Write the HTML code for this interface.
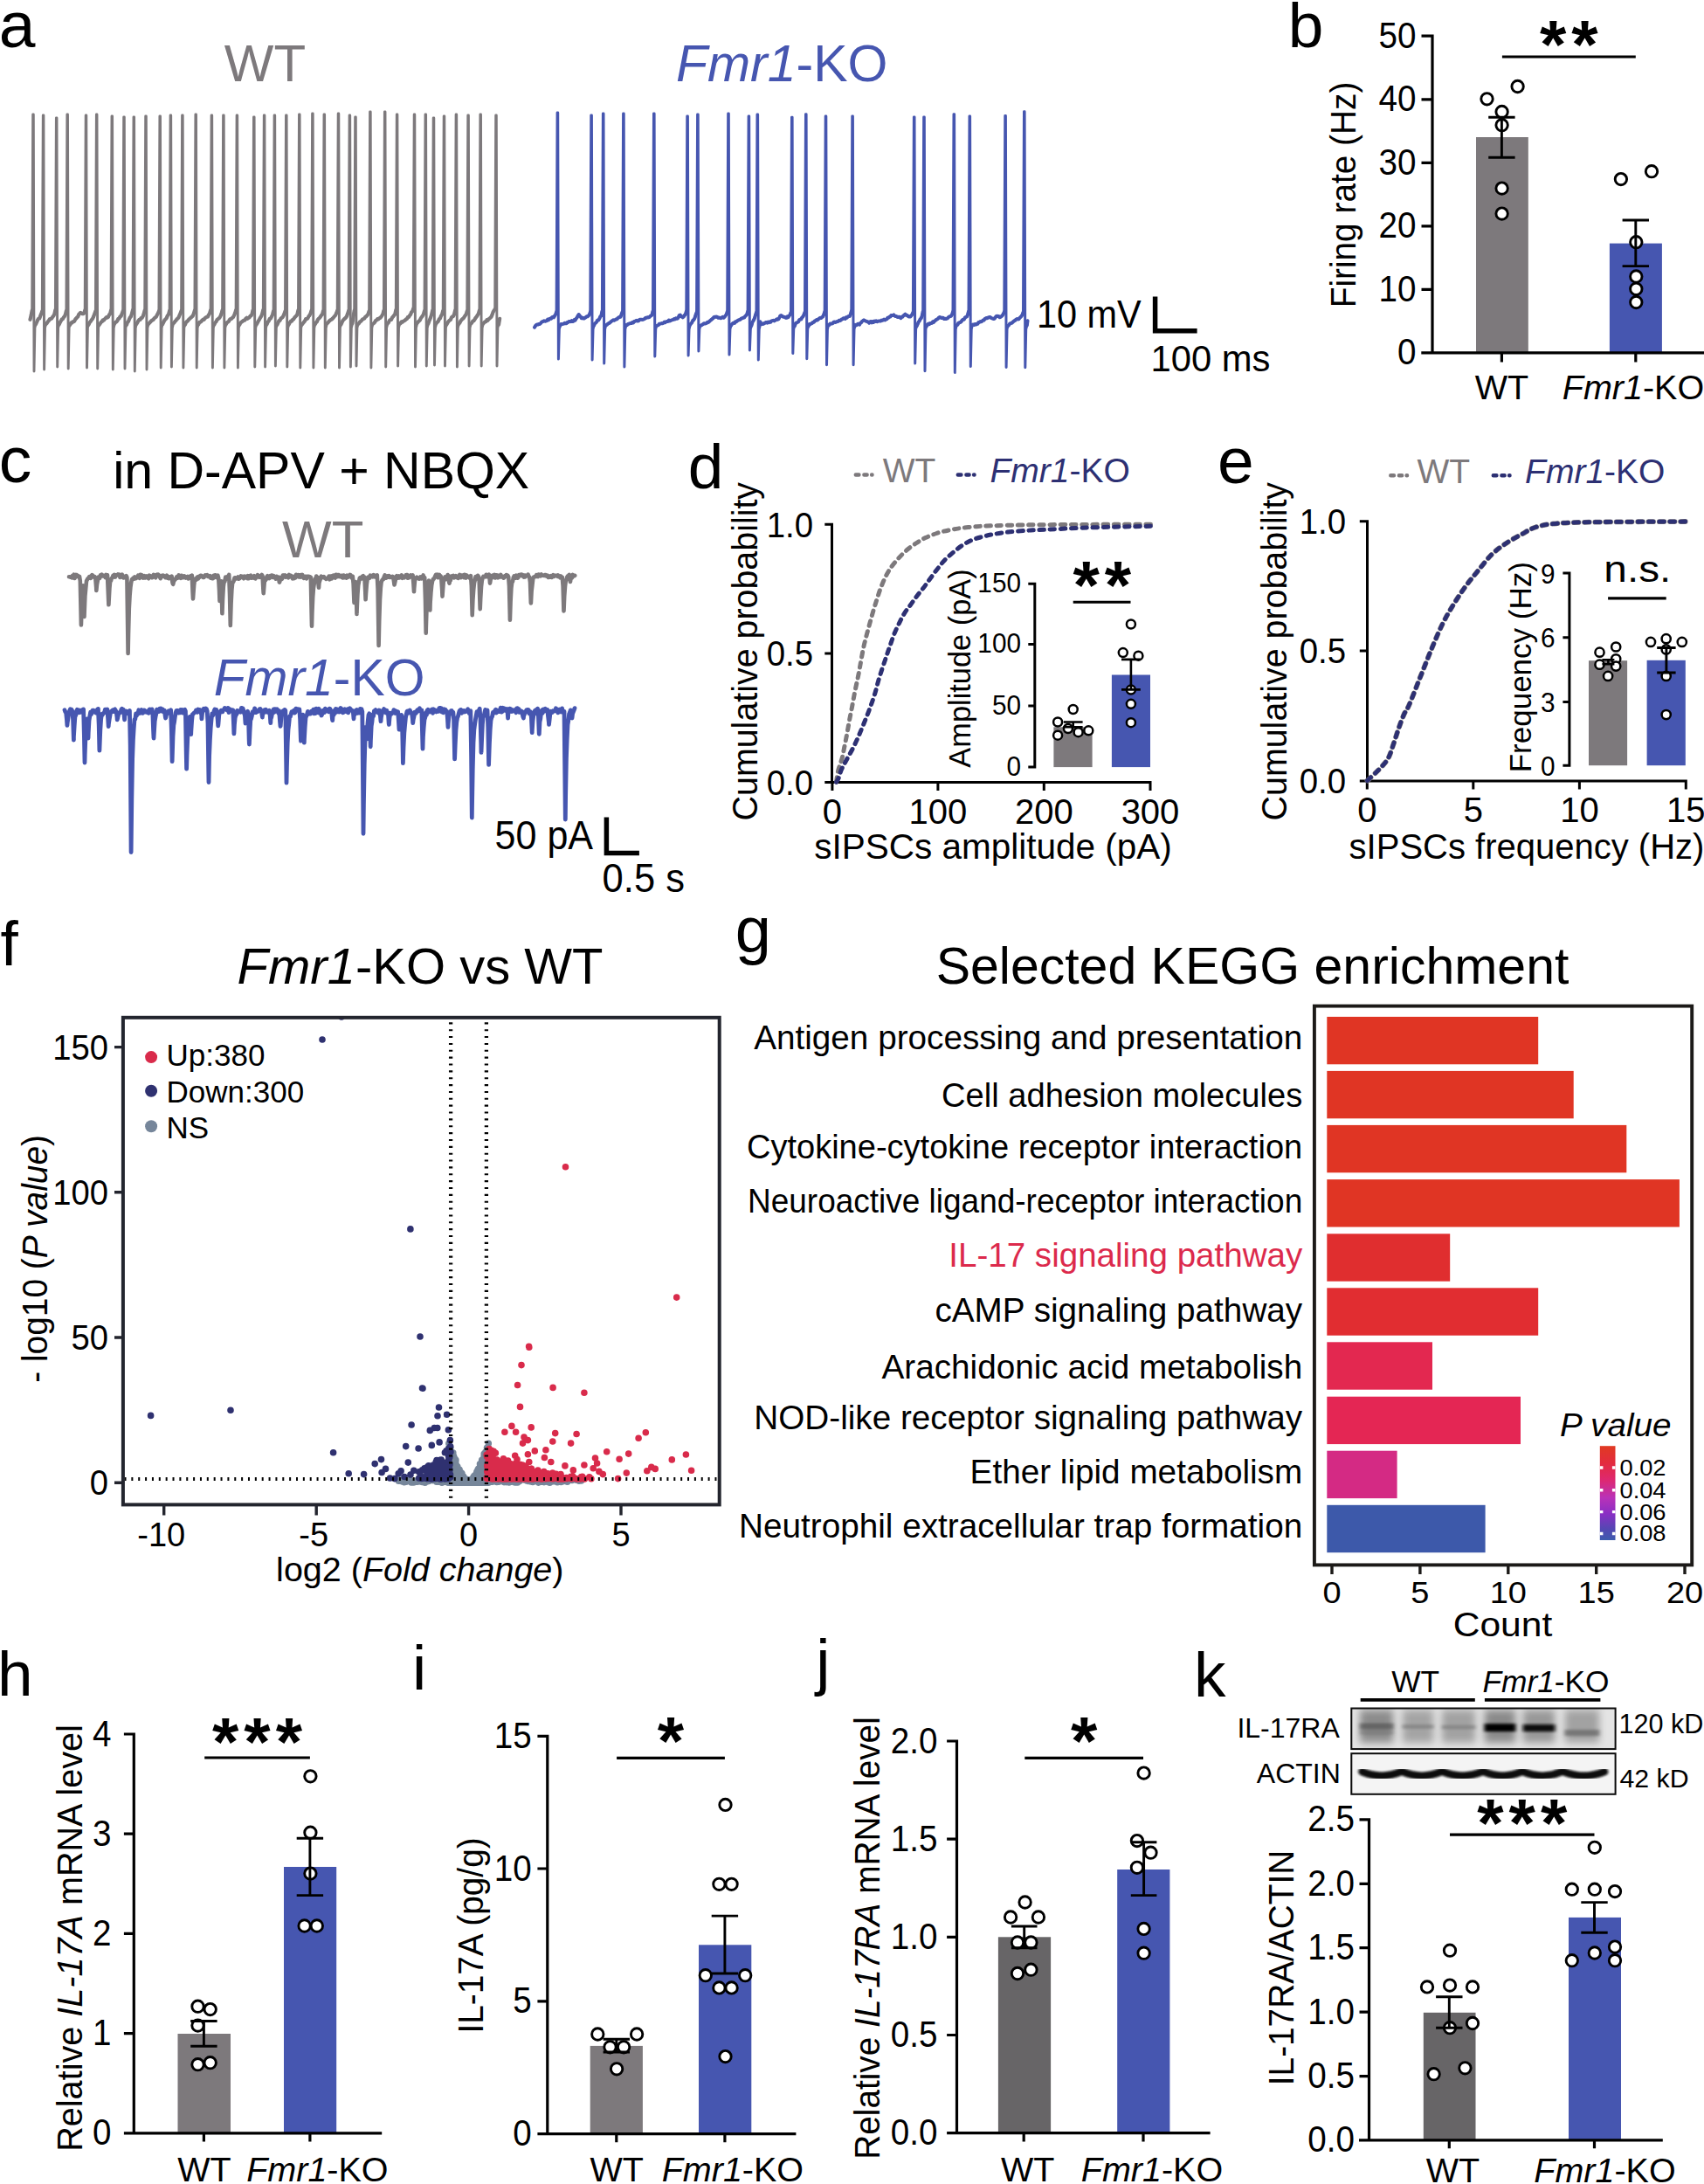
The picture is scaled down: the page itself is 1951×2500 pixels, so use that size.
<!DOCTYPE html>
<html lang="en">
<head>
<meta charset="utf-8">
<title>Figure</title>
<style>
html,body{margin:0;padding:0;background:#fff;}
svg{display:block;}
text{font-family:'Liberation Sans', Arial, Helvetica, sans-serif;white-space:pre;}
</style>
</head>
<body>
<svg width="1951" height="2500" viewBox="0 0 1951 2500">
<text x="-1.3" y="54.2" font-size="75">a</text>
<text x="303.5" y="92.6" font-size="60" text-anchor="middle" fill="#7d797c">WT</text>
<text x="773.9" y="92.6" font-size="59" fill="#4656b0"><tspan font-style="italic">Fmr1</tspan>-KO</text>
<path d="M34.5 365.8L35.6 361.3L36.7 355.3L37.7 131L38.3 131L39 425L39.9 375.5L41 371L41 371.2L42 369L43.1 366.4L44.1 364.7L45.2 364.5L46.2 361.7L47.3 359.2L48.3 356.3L49.3 132L49.9 132L50.6 423L51.5 375.5L52.6 371L52.6 371L53.7 369.9L54.8 368.1L55.8 367.2L56.9 365.4L58 365.1L59.1 364.5L60.2 362.8L61.2 361.8L62.3 359.6L63.4 354.8L64.4 135L65 135L65.7 420L66.6 375.5L67.7 371L67.7 371.4L68.7 369.1L69.8 367.2L70.8 365.4L71.8 365.4L72.8 363.4L73.9 362.1L74.9 360L75.9 355.8L76.9 131L77.5 131L78.2 422L79.1 375.5L80.2 371L80.2 371.7L81.2 369.7L82.2 369.6L83.2 368.3L84.2 368.4L85.2 367.6L86.2 365.6L87.2 364.6L88.2 363.3L89.2 362.6L90.2 359.9L91.2 358.8L92.2 357.9L93.2 358.7L94.2 359.2L95.2 359.2L96.2 358.5L97.2 355.5L98.2 132L98.8 132L99.5 421L100.4 375.5L101.5 371L101.5 371.6L102.6 369.1L103.8 367.8L104.9 366.1L106 364.8L107.1 362.5L108.3 359.2L109.4 356.1L110.4 131L111 131L111.7 422L112.6 375.5L113.7 371L113.7 371.7L114.7 370.3L115.7 368.8L116.8 368.1L117.8 366.4L118.8 366.6L119.8 365.4L120.9 364.2L121.9 363.1L122.9 363.6L123.9 362.9L125 360.2L126 359.5L127 355.4L128 133L128.6 133L129.3 423L130.2 375.5L131.3 371L131.3 370.4L132.3 368.9L133.4 368.3L134.4 367.2L135.5 364.7L136.5 364.5L137.6 362.3L138.6 361.9L139.7 359.1L140.7 356.1L141.7 134L142.3 134L143 422L143.9 375.5L145 371L145 371.8L146 368.8L147 367.9L148 365.2L149 363.2L150 362.2L151 358.8L152 355L153 134L153.6 134L154.3 425L155.2 375.5L156.3 371L156.3 370.9L157.3 369.4L158.4 367.3L159.4 365.9L160.5 366L161.5 364L162.6 363.8L163.6 362.2L164.7 359.2L165.7 355.4L166.7 133L167.3 133L168 423L168.9 375.5L170 371L170 371L171.1 369.7L172.2 368.5L173.2 367.4L174.3 366.5L175.4 366.1L176.5 364.5L177.6 363.4L178.7 362.9L179.7 360.8L180.8 358.9L181.9 356.3L182.9 133L183.5 133L184.2 421L185.1 375.5L186.2 371L186.2 371L187.3 368.8L188.5 366.3L189.6 365.4L190.7 364.1L191.8 361.4L193 360L194.1 355.7L195.1 132L195.7 132L196.4 420L197.3 375.5L198.4 371L198.4 370.3L199.4 369.4L200.4 367.8L201.5 366.9L202.5 365.2L203.5 364.6L204.5 363.4L205.6 360.7L206.6 358.6L207.6 355.8L208.6 132L209.2 132L209.9 421L210.8 375.5L211.9 371L211.9 371.7L213 368.9L214.1 368L215.2 367.1L216.3 365.6L217.4 364.7L218.5 363.6L219.6 362.6L220.7 361.6L221.8 359L222.9 355.3L223.9 131L224.5 131L225.2 421L226.1 375.5L227.2 371L227.2 371.4L228.3 368.9L229.3 368.8L230.4 368.1L231.5 366.6L232.5 365.7L233.6 365.8L234.7 364.2L235.8 363.3L236.8 362.9L237.9 362.5L239 360.3L240 358.8L241.1 355.2L242.1 132L242.7 132L243.4 421L244.3 375.5L245.4 371L245.4 371.5L246.4 369.1L247.4 368.4L248.5 366.1L249.5 365.2L250.5 364.5L251.5 363.6L252.6 361.4L253.6 358.9L254.6 354.9L255.6 132L256.2 132L256.9 421L257.8 375.5L258.9 371L258.9 371L259.9 369L260.9 368.8L262 367.8L263 365.8L264 365L265 365L266 363.7L267 363L268.1 360.9L269.1 358.5L270.1 355.2L271.1 132L271.7 132L272.4 421L273.3 375.5L274.4 371L274.4 371.5L275.4 369.4L276.4 368.7L277.4 368L278.4 367.2L279.4 366.5L280.4 366.6L281.4 364.7L282.5 363.8L283.5 364.7L284.5 363.9L285.5 363.4L286.5 361.7L287.5 361.4L288.5 359.6L289.5 355.1L290.5 134L291.1 134L291.8 420L292.7 375.5L293.8 371L293.8 371.4L294.9 369.3L295.9 367.3L297 365.6L298.1 363.6L299.2 361.9L300.2 359.2L301.3 354.8L302.3 132L302.9 132L303.6 420L304.5 375.5L305.6 371L305.6 371.1L306.7 368.4L307.7 367.6L308.8 364.8L309.9 364.6L311 362.4L312 360.3L313.1 356.1L314.1 132L314.7 132L315.4 419L316.3 375.5L317.4 371L317.4 371.6L318.4 369.3L319.4 367.1L320.4 367L321.4 364.9L322.5 363.9L323.5 363.3L324.5 361.5L325.5 359.2L326.5 356.2L327.5 132L328.1 132L328.8 420L329.7 375.5L330.8 371L330.8 371.2L331.9 369.1L332.9 367.7L334 367.6L335.1 365.9L336.1 365.4L337.2 363.6L338.3 362.3L339.4 361.4L340.4 359.8L341.5 355L342.5 131L343.1 131L343.8 421L344.7 375.5L345.8 371L345.8 371.5L346.9 370L348 368.6L349 367.5L350.1 365.1L351.2 365.1L352.3 364.5L353.4 362.1L354.4 361L355.5 358.9L356.6 355.5L357.6 130L358.2 130L358.9 421L359.8 375.5L360.9 371L360.9 370.9L361.9 369.1L362.9 368.3L363.9 365.8L364.9 364.7L366 363.7L367 362.4L368 360.8L369 360.1L370 356.1L371 131L371.6 131L372.3 421L373.2 375.5L374.3 371L374.3 370.3L375.4 369.5L376.5 368L377.5 367L378.6 366.1L379.7 365.6L380.8 364.6L381.9 363.3L383 362L384 361L385.1 358.6L386.2 355.6L387.2 130L387.8 130L388.5 421L389.4 375.5L390.5 371L390.5 371.3L391.6 368.8L392.6 366.8L393.7 365.6L394.8 364.6L395.9 363.6L396.9 362.3L398 359.3L399.1 356L400.1 132L400.7 132L401.4 420L402.3 375.5L403.4 371L403.4 370.5L404.5 362.9L405.7 355.3L406.7 134L407.3 134L408 419L408.9 375.5L410 371L410 371L411.1 369.9L412.1 368.4L413.1 367.8L414.2 366.6L415.2 365.4L416.3 365L417.3 364.4L418.4 362.6L419.4 362.2L420.5 360.9L421.5 359.7L422.6 356.2L423.6 128L424.2 128L424.9 421L425.8 375.5L426.9 371L426.9 370.8L427.9 370.2L429 369L430 367.2L431.1 366.6L432.1 365.2L433.1 365.4L434.2 364.4L435.2 363.9L436.3 362.8L437.3 361.3L438.4 359.5L439.4 355.6L440.4 128L441 128L441.7 420L442.6 375.5L443.7 371L443.7 370.4L444.8 369.3L445.8 367L446.9 366L448 365.9L449 363.6L450.1 362.4L451.2 360.9L452.2 360L453.3 355L454.3 131L454.9 131L455.6 419L456.5 375.5L457.6 371L457.6 370.2L458.6 370.3L459.7 368.3L460.7 368.7L461.8 367.6L462.8 367.2L463.8 366.7L464.9 365.4L465.9 365L467 362.9L468 363L469 361.2L470.1 360L471.1 357.3L472.2 356.4L473.2 353.5L474.2 131L474.8 131L475.5 420L476.4 375.5L477.5 371L477.5 370L478.6 368.6L479.6 367.6L480.7 366.7L481.8 364.4L482.8 362.9L483.9 361.4L484.9 359.7L486 355.9L487 131L487.6 131L488.3 419L489.2 375.5L490.3 371L490.3 370.7L491.5 367.1L492.8 364.2L494 360.6L495.2 355.4L496.2 135L496.8 135L497.5 418L498.4 375.5L499.5 371L499.5 370.3L500.6 368.8L501.7 367.9L502.8 365.4L503.9 364.4L505 361.6L506.1 360L507.2 355.9L508.2 133L508.8 133L509.5 419L510.4 375.5L511.5 371L511.5 371.3L512.6 369.2L513.6 367.8L514.7 366.8L515.8 366.1L516.8 363.7L517.9 362.4L519 362L520 360.1L521.1 355.5L522.1 131L522.7 131L523.4 420L524.3 375.5L525.4 371L525.4 370.9L526.4 369.5L527.5 367.3L528.5 366.2L529.6 365L530.6 364.4L531.7 362.7L532.7 361.1L533.8 359.7L534.8 356.2L535.8 132L536.4 132L537.1 419L538 375.5L539.1 371L539.1 370.7L540.2 369.5L541.3 367.7L542.4 367.2L543.5 365.6L544.5 363.9L545.6 362.6L546.7 360.8L547.8 359.4L548.9 355.3L549.9 131L550.5 131L551.2 419L552.1 375.5L553.2 371L553.2 370.5L554.2 369.4L555.3 368.4L556.3 368.2L557.4 366.3L558.4 366.9L559.4 365.3L560.5 364.7L561.5 363.6L562.5 362.7L563.6 360.2L564.6 357.2L565.7 355.4L566.7 353.9L567.7 132L568.3 132L569 419L569.9 375.5L571 371L571 371.6L572.1 364.8" fill="none" stroke="#7d797c" stroke-width="2.9" stroke-linejoin="round" stroke-linecap="round"/>
<path d="M34.5 365.8L35.6 361.3L36.7 355.3M41 371.2L42 369L43.1 366.4L44.1 364.7L45.2 364.5L46.2 361.7L47.3 359.2L48.3 356.3M52.6 371L53.7 369.9L54.8 368.1L55.8 367.2L56.9 365.4L58 365.1L59.1 364.5L60.2 362.8L61.2 361.8L62.3 359.6L63.4 354.8M67.7 371.4L68.7 369.1L69.8 367.2L70.8 365.4L71.8 365.4L72.8 363.4L73.9 362.1L74.9 360L75.9 355.8M80.2 371.7L81.2 369.7L82.2 369.6L83.2 368.3L84.2 368.4L85.2 367.6L86.2 365.6L87.2 364.6L88.2 363.3L89.2 362.6L90.2 359.9L91.2 358.8L92.2 357.9L93.2 358.7L94.2 359.2L95.2 359.2L96.2 358.5L97.2 355.5M101.5 371.6L102.6 369.1L103.8 367.8L104.9 366.1L106 364.8L107.1 362.5L108.3 359.2L109.4 356.1M113.7 371.7L114.7 370.3L115.7 368.8L116.8 368.1L117.8 366.4L118.8 366.6L119.8 365.4L120.9 364.2L121.9 363.1L122.9 363.6L123.9 362.9L125 360.2L126 359.5L127 355.4M131.3 370.4L132.3 368.9L133.4 368.3L134.4 367.2L135.5 364.7L136.5 364.5L137.6 362.3L138.6 361.9L139.7 359.1L140.7 356.1M145 371.8L146 368.8L147 367.9L148 365.2L149 363.2L150 362.2L151 358.8L152 355M156.3 370.9L157.3 369.4L158.4 367.3L159.4 365.9L160.5 366L161.5 364L162.6 363.8L163.6 362.2L164.7 359.2L165.7 355.4M170 371L171.1 369.7L172.2 368.5L173.2 367.4L174.3 366.5L175.4 366.1L176.5 364.5L177.6 363.4L178.7 362.9L179.7 360.8L180.8 358.9L181.9 356.3M186.2 371L187.3 368.8L188.5 366.3L189.6 365.4L190.7 364.1L191.8 361.4L193 360L194.1 355.7M198.4 370.3L199.4 369.4L200.4 367.8L201.5 366.9L202.5 365.2L203.5 364.6L204.5 363.4L205.6 360.7L206.6 358.6L207.6 355.8M211.9 371.7L213 368.9L214.1 368L215.2 367.1L216.3 365.6L217.4 364.7L218.5 363.6L219.6 362.6L220.7 361.6L221.8 359L222.9 355.3M227.2 371.4L228.3 368.9L229.3 368.8L230.4 368.1L231.5 366.6L232.5 365.7L233.6 365.8L234.7 364.2L235.8 363.3L236.8 362.9L237.9 362.5L239 360.3L240 358.8L241.1 355.2M245.4 371.5L246.4 369.1L247.4 368.4L248.5 366.1L249.5 365.2L250.5 364.5L251.5 363.6L252.6 361.4L253.6 358.9L254.6 354.9M258.9 371L259.9 369L260.9 368.8L262 367.8L263 365.8L264 365L265 365L266 363.7L267 363L268.1 360.9L269.1 358.5L270.1 355.2M274.4 371.5L275.4 369.4L276.4 368.7L277.4 368L278.4 367.2L279.4 366.5L280.4 366.6L281.4 364.7L282.5 363.8L283.5 364.7L284.5 363.9L285.5 363.4L286.5 361.7L287.5 361.4L288.5 359.6L289.5 355.1M293.8 371.4L294.9 369.3L295.9 367.3L297 365.6L298.1 363.6L299.2 361.9L300.2 359.2L301.3 354.8M305.6 371.1L306.7 368.4L307.7 367.6L308.8 364.8L309.9 364.6L311 362.4L312 360.3L313.1 356.1M317.4 371.6L318.4 369.3L319.4 367.1L320.4 367L321.4 364.9L322.5 363.9L323.5 363.3L324.5 361.5L325.5 359.2L326.5 356.2M330.8 371.2L331.9 369.1L332.9 367.7L334 367.6L335.1 365.9L336.1 365.4L337.2 363.6L338.3 362.3L339.4 361.4L340.4 359.8L341.5 355M345.8 371.5L346.9 370L348 368.6L349 367.5L350.1 365.1L351.2 365.1L352.3 364.5L353.4 362.1L354.4 361L355.5 358.9L356.6 355.5M360.9 370.9L361.9 369.1L362.9 368.3L363.9 365.8L364.9 364.7L366 363.7L367 362.4L368 360.8L369 360.1L370 356.1M374.3 370.3L375.4 369.5L376.5 368L377.5 367L378.6 366.1L379.7 365.6L380.8 364.6L381.9 363.3L383 362L384 361L385.1 358.6L386.2 355.6M390.5 371.3L391.6 368.8L392.6 366.8L393.7 365.6L394.8 364.6L395.9 363.6L396.9 362.3L398 359.3L399.1 356M403.4 370.5L404.5 362.9L405.7 355.3M410 371L411.1 369.9L412.1 368.4L413.1 367.8L414.2 366.6L415.2 365.4L416.3 365L417.3 364.4L418.4 362.6L419.4 362.2L420.5 360.9L421.5 359.7L422.6 356.2M426.9 370.8L427.9 370.2L429 369L430 367.2L431.1 366.6L432.1 365.2L433.1 365.4L434.2 364.4L435.2 363.9L436.3 362.8L437.3 361.3L438.4 359.5L439.4 355.6M443.7 370.4L444.8 369.3L445.8 367L446.9 366L448 365.9L449 363.6L450.1 362.4L451.2 360.9L452.2 360L453.3 355M457.6 370.2L458.6 370.3L459.7 368.3L460.7 368.7L461.8 367.6L462.8 367.2L463.8 366.7L464.9 365.4L465.9 365L467 362.9L468 363L469 361.2L470.1 360L471.1 357.3L472.2 356.4L473.2 353.5M477.5 370L478.6 368.6L479.6 367.6L480.7 366.7L481.8 364.4L482.8 362.9L483.9 361.4L484.9 359.7L486 355.9M490.3 370.7L491.5 367.1L492.8 364.2L494 360.6L495.2 355.4M499.5 370.3L500.6 368.8L501.7 367.9L502.8 365.4L503.9 364.4L505 361.6L506.1 360L507.2 355.9M511.5 371.3L512.6 369.2L513.6 367.8L514.7 366.8L515.8 366.1L516.8 363.7L517.9 362.4L519 362L520 360.1L521.1 355.5M525.4 370.9L526.4 369.5L527.5 367.3L528.5 366.2L529.6 365L530.6 364.4L531.7 362.7L532.7 361.1L533.8 359.7L534.8 356.2M539.1 370.7L540.2 369.5L541.3 367.7L542.4 367.2L543.5 365.6L544.5 363.9L545.6 362.6L546.7 360.8L547.8 359.4L548.9 355.3M553.2 370.5L554.2 369.4L555.3 368.4L556.3 368.2L557.4 366.3L558.4 366.9L559.4 365.3L560.5 364.7L561.5 363.6L562.5 362.7L563.6 360.2L564.6 357.2L565.7 355.4L566.7 353.9M571 371.6L572.1 364.8" fill="none" stroke="#7d797c" stroke-width="4.2" stroke-linejoin="round" stroke-linecap="round"/>
<path d="M612 374.7L613 373L614 372L615 371.4L616 371.6L617 371L618 370.9L619 370.2L620 368.8L621 368.2L622 367.8L623 367.3L624 367.7L625.1 367.5L626.1 367.1L627.1 365.6L628.1 366.2L629.1 364.9L630.1 364.6L631.1 364.7L632.1 363.2L633.1 362.7L634.1 363.3L635.1 361.5L636.1 360L637.1 357.1L638.1 129L638.7 129L639.4 411L640.3 377L641.4 372.5L641.4 372.8L642.4 371.1L643.4 371.1L644.4 370.9L645.4 370.6L646.5 369.8L647.5 370L648.5 370.3L649.5 369L650.5 368.9L651.5 367.9L652.5 367.9L653.5 368.2L654.6 367L655.6 368L656.6 367.7L657.6 366L658.6 366.7L659.6 364.7L660.6 363.5L661.6 361.6L662.6 360L663.7 361.3L664.7 362.7L665.7 364.1L666.7 363.6L667.7 364.4L668.7 364.5L669.7 363.8L670.7 363.2L671.8 362.2L672.8 362.3L673.8 361.3L674.8 360.4L675.8 357.3L676.8 132L677.4 132L678.1 412L679 377L680.1 372.5L680.1 372.6L681.1 370.2L682.2 369.6L683.2 368.3L684.2 366.4L685.3 366.4L686.3 364.8L687.3 362.4L688.4 361.5L689.4 356.4L690.4 130L691 130L691.7 416L692.6 377L693.7 372.5L693.7 372.2L694.8 371.8L695.8 370.8L696.9 370.1L697.9 369.6L699 368.7L700 367.8L701.1 367L702.1 366.3L703.2 366.8L704.2 366.3L705.2 365.5L706.3 365.3L707.4 364.1L708.4 363.4L709.5 362.9L710.5 362.7L711.6 359.7L712.6 357L713.6 130L714.2 130L714.9 420L715.8 377L716.9 372.5L716.9 372.1L717.9 372.2L718.9 371.1L720 370.6L721 370.3L722 370.1L723 370L724 369L725.1 369.4L726.1 367.9L727.1 367.8L728.1 367.2L729.1 366.8L730.2 367.6L731.2 367.2L732.2 366L733.2 365.7L734.2 365.7L735.3 365.9L736.3 365.7L737.3 365.3L738.3 364.8L739.3 363.7L740.4 363.8L741.4 363.2L742.4 363.4L743.4 363.1L744.4 362L745.5 361.3L746.5 360.6L747.5 356.2L748.5 130L749.1 130L749.8 408L750.7 377L751.8 372.5L751.8 373L752.8 372.5L753.8 372.1L754.8 370.8L755.8 370.7L756.8 370.4L757.8 370.1L758.8 370.3L759.8 369.5L760.8 368.6L761.8 369.1L762.8 368.2L763.8 368.1L764.8 368L765.8 366.5L766.8 367.5L767.8 367L768.8 366.5L769.8 366.2L770.8 365.8L771.8 365.1L772.8 365.4L773.8 364.3L774.8 364.8L775.8 364.6L776.8 363.1L777.8 360.9L778.8 360.6L779.8 362.2L780.8 362.2L781.8 363.3L782.8 362.5L783.8 360.8L784.8 359.9L785.8 356.6L786.8 133L787.4 133L788.1 407L789 377L790.1 372.5L790.1 371.8L791.2 370.3L792.2 369.3L793.3 366.7L794.4 366L795.5 364L796.5 360.6L797.6 357.6L798.6 131L799.2 131L799.9 402L800.8 377L801.9 372.5L801.9 372.7L802.9 372.5L804 371.6L805 371.2L806 370.2L807 370.5L808.1 370.3L809.1 369.8L810.1 368.7L811.1 368.9L812.2 368L813.2 366.9L814.2 366.2L815.2 365.3L816.3 364.4L817.3 363.2L818.3 362.8L819.4 362.7L820.4 362.6L821.4 362.9L822.4 363.8L823.5 363.6L824.5 363.9L825.5 364.3L826.5 363.5L827.6 362.8L828.6 363.6L829.6 362.8L830.6 361.4L831.7 359.9L832.7 357L833.7 130L834.3 130L835 406L835.9 377L837 372.5L837 372.7L838 371.1L839 370L840 369.6L841 369.9L842 368.3L843 368.3L844 367.3L845 366.8L846 366.2L847.1 366.1L848.1 365.2L849.1 364.5L850.1 364.1L851.1 363.7L852.1 363.6L853.1 362.2L854.1 361.2L855.1 360.2L856.1 356.9L857.1 133L857.7 133L858.4 401L859.3 377L860.4 372.5L860.4 372.8L861.5 368.8L862.6 367L863.8 364.6L864.9 361L866 357.7L867 131L867.6 131L868.3 412L869.2 377L870.3 372.5L870.3 368.3L871.3 370.1L872.3 371.2L873.3 370.5L874.3 370.8L875.3 370L876.3 369.3L877.3 368.9L878.3 369.6L879.4 368.6L880.4 369.1L881.4 368.3L882.4 368.7L883.4 367.4L884.4 367.1L885.4 366.8L886.4 367.4L887.4 366.8L888.4 366.1L889.4 365.3L890.4 365.7L891.4 365.2L892.4 363.4L893.4 361.4L894.4 361.1L895.4 361.7L896.4 362.5L897.5 362.8L898.5 362.9L899.5 363.7L900.5 363.8L901.5 362.3L902.5 363.1L903.5 361.5L904.5 360.6L905.5 357.7L906.5 134.3L907.1 134.3L907.8 404.6L908.7 377L909.8 372.5L909.8 373.2L910.9 370.2L911.9 369.5L913 369L914.1 368.5L915.1 366.2L916.2 365.6L917.2 365.6L918.3 363.4L919.4 362.5L920.4 360.4L921.5 357.3L922.5 130.8L923.1 130.8L923.8 410.7L924.7 377L925.8 372.5L925.8 373.2L926.8 370.9L927.8 371.1L928.9 370.4L929.9 369.9L930.9 368.8L931.9 368.8L933 367.3L934 366.9L935 366L936 366.4L937 365.4L938.1 364.5L939.1 363.8L940.1 364.1L941.1 363.2L942.2 362.4L943.2 360.2L944.2 357L945.2 133L945.8 133L946.5 417.8L947.4 377L948.5 372.5L948.5 371.9L949.5 372.1L950.5 370.4L951.5 370.6L952.5 370.6L953.6 370L954.6 368.6L955.6 368.4L956.6 369L957.6 368.2L958.6 368.2L959.6 367.8L960.6 366.8L961.7 367.1L962.7 366.5L963.7 365.5L964.7 365.2L965.7 364.3L966.7 364.5L967.7 365L968.7 363.3L969.7 363.7L970.8 362.5L971.8 361.9L972.8 362L973.8 359.8L974.8 356.3L975.8 133L976.4 133L977.1 417.8L978 377L979.1 372.5L979.1 371.9L980.1 372.4L981.1 372L982.1 370.8L983.1 370.9L984.1 371.6L985.1 369.8L986.1 369.3L987.1 367.7L988.1 367.1L989.1 366.4L990.2 367L991.2 367.5L992.2 367.8L993.2 368.4L994.2 368.4L995.2 369.6L996.2 368.3L997.2 368L998.2 369.4L999.2 368L1000.2 368.9L1001.2 367.5L1002.2 367.9L1003.2 367.4L1004.2 368.2L1005.2 367.7L1006.2 367.6L1007.2 367.6L1008.2 367.6L1009.2 366.6L1010.2 366.8L1011.2 366.4L1012.2 365.6L1013.3 366.4L1014.3 365.6L1015.3 365.4L1016.3 363.8L1017.3 363.7L1018.3 362.8L1019.3 362.6L1020.3 361L1021.3 361L1022.3 361L1023.3 360.4L1024.3 361.4L1025.3 362.1L1026.3 362L1027.3 362.8L1028.3 363.1L1029.3 362.7L1030.3 363.1L1031.3 364.2L1032.3 363L1033.3 362.7L1034.4 361.3L1035.4 360.6L1036.4 359.7L1037.4 360.8L1038.4 360.8L1039.4 361.7L1040.4 362.5L1041.4 362.2L1042.4 362.5L1043.4 361.3L1044.4 359.8L1045.4 357.7L1046.4 134L1047 134L1047.7 416L1048.6 377L1049.7 372.5L1049.7 373.1L1050.7 371L1051.7 368.5L1052.7 367.4L1053.7 365.2L1054.7 364.3L1055.7 361.7L1056.7 356.7L1057.7 134L1058.3 134L1059 424.8L1059.9 377L1061 372.5L1061 373.2L1062 371.3L1063 370.6L1064 371.2L1065 370.1L1066 370L1067 369.8L1068 368.3L1069 368.9L1070 367.5L1071 366.9L1072 365.8L1073 365.5L1074 364.7L1075 363.5L1076 363L1077 363.5L1078 364L1079 363.7L1080 364L1081 365L1082 364.8L1083 365L1084 364.7L1085 364.3L1086 363.1L1087 362.4L1088 362.1L1089 361.6L1090 360.1L1091 357.1L1092 130.8L1092.6 130.8L1093.3 426.6L1094.2 377L1095.3 372.5L1095.3 372.3L1096.4 371.7L1097.4 369.8L1098.5 369.2L1099.5 369L1100.6 368.1L1101.6 366.5L1102.7 365.7L1103.7 365.8L1104.8 363.7L1105.8 363L1106.9 362.5L1107.9 360.6L1109 356.5L1110 133L1110.6 133L1111.3 419.5L1112.2 377L1113.3 372.5L1113.3 371.8L1114.3 371.4L1115.3 371.9L1116.3 371L1117.4 371.5L1118.4 370.8L1119.4 370.7L1120.4 368.9L1121.4 368.8L1122.4 368.1L1123.4 368.3L1124.5 367.6L1125.5 366.5L1126.5 366.6L1127.5 365.1L1128.5 364.6L1129.5 363.9L1130.5 364.2L1131.5 363.4L1132.6 363.1L1133.6 362.9L1134.6 363.8L1135.6 364.3L1136.6 364.6L1137.6 365L1138.6 364.7L1139.7 363.2L1140.7 361.9L1141.7 361.8L1142.7 361.9L1143.7 362.2L1144.7 363.3L1145.7 362.8L1146.8 361.9L1147.8 361L1148.8 359.3L1149.8 357.2L1150.8 132.6L1151.4 132.6L1152.1 420.4L1153 377L1154.1 372.5L1154.1 373.1L1155.1 372.1L1156.1 370.6L1157.2 370.1L1158.2 369.9L1159.2 369.1L1160.2 368.1L1161.3 367.2L1162.3 366.8L1163.3 365.7L1164.3 365.1L1165.4 365.4L1166.4 365.3L1167.4 363.9L1168.4 363L1169.5 361.9L1170.5 360.3L1171.5 357.5L1172.5 127.8L1173.1 127.8L1173.8 420.8L1174.7 377L1175.8 372.5L1175.8 372.4L1176.5 367.2" fill="none" stroke="#4656b0" stroke-width="3.0" stroke-linejoin="round" stroke-linecap="round"/>
<path d="M612 374.7L613 373L614 372L615 371.4L616 371.6L617 371L618 370.9L619 370.2L620 368.8L621 368.2L622 367.8L623 367.3L624 367.7L625.1 367.5L626.1 367.1L627.1 365.6L628.1 366.2L629.1 364.9L630.1 364.6L631.1 364.7L632.1 363.2L633.1 362.7L634.1 363.3L635.1 361.5L636.1 360L637.1 357.1M641.4 372.8L642.4 371.1L643.4 371.1L644.4 370.9L645.4 370.6L646.5 369.8L647.5 370L648.5 370.3L649.5 369L650.5 368.9L651.5 367.9L652.5 367.9L653.5 368.2L654.6 367L655.6 368L656.6 367.7L657.6 366L658.6 366.7L659.6 364.7L660.6 363.5L661.6 361.6L662.6 360L663.7 361.3L664.7 362.7L665.7 364.1L666.7 363.6L667.7 364.4L668.7 364.5L669.7 363.8L670.7 363.2L671.8 362.2L672.8 362.3L673.8 361.3L674.8 360.4L675.8 357.3M680.1 372.6L681.1 370.2L682.2 369.6L683.2 368.3L684.2 366.4L685.3 366.4L686.3 364.8L687.3 362.4L688.4 361.5L689.4 356.4M693.7 372.2L694.8 371.8L695.8 370.8L696.9 370.1L697.9 369.6L699 368.7L700 367.8L701.1 367L702.1 366.3L703.2 366.8L704.2 366.3L705.2 365.5L706.3 365.3L707.4 364.1L708.4 363.4L709.5 362.9L710.5 362.7L711.6 359.7L712.6 357M716.9 372.1L717.9 372.2L718.9 371.1L720 370.6L721 370.3L722 370.1L723 370L724 369L725.1 369.4L726.1 367.9L727.1 367.8L728.1 367.2L729.1 366.8L730.2 367.6L731.2 367.2L732.2 366L733.2 365.7L734.2 365.7L735.3 365.9L736.3 365.7L737.3 365.3L738.3 364.8L739.3 363.7L740.4 363.8L741.4 363.2L742.4 363.4L743.4 363.1L744.4 362L745.5 361.3L746.5 360.6L747.5 356.2M751.8 373L752.8 372.5L753.8 372.1L754.8 370.8L755.8 370.7L756.8 370.4L757.8 370.1L758.8 370.3L759.8 369.5L760.8 368.6L761.8 369.1L762.8 368.2L763.8 368.1L764.8 368L765.8 366.5L766.8 367.5L767.8 367L768.8 366.5L769.8 366.2L770.8 365.8L771.8 365.1L772.8 365.4L773.8 364.3L774.8 364.8L775.8 364.6L776.8 363.1L777.8 360.9L778.8 360.6L779.8 362.2L780.8 362.2L781.8 363.3L782.8 362.5L783.8 360.8L784.8 359.9L785.8 356.6M790.1 371.8L791.2 370.3L792.2 369.3L793.3 366.7L794.4 366L795.5 364L796.5 360.6L797.6 357.6M801.9 372.7L802.9 372.5L804 371.6L805 371.2L806 370.2L807 370.5L808.1 370.3L809.1 369.8L810.1 368.7L811.1 368.9L812.2 368L813.2 366.9L814.2 366.2L815.2 365.3L816.3 364.4L817.3 363.2L818.3 362.8L819.4 362.7L820.4 362.6L821.4 362.9L822.4 363.8L823.5 363.6L824.5 363.9L825.5 364.3L826.5 363.5L827.6 362.8L828.6 363.6L829.6 362.8L830.6 361.4L831.7 359.9L832.7 357M837 372.7L838 371.1L839 370L840 369.6L841 369.9L842 368.3L843 368.3L844 367.3L845 366.8L846 366.2L847.1 366.1L848.1 365.2L849.1 364.5L850.1 364.1L851.1 363.7L852.1 363.6L853.1 362.2L854.1 361.2L855.1 360.2L856.1 356.9M860.4 372.8L861.5 368.8L862.6 367L863.8 364.6L864.9 361L866 357.7M870.3 368.3L871.3 370.1L872.3 371.2L873.3 370.5L874.3 370.8L875.3 370L876.3 369.3L877.3 368.9L878.3 369.6L879.4 368.6L880.4 369.1L881.4 368.3L882.4 368.7L883.4 367.4L884.4 367.1L885.4 366.8L886.4 367.4L887.4 366.8L888.4 366.1L889.4 365.3L890.4 365.7L891.4 365.2L892.4 363.4L893.4 361.4L894.4 361.1L895.4 361.7L896.4 362.5L897.5 362.8L898.5 362.9L899.5 363.7L900.5 363.8L901.5 362.3L902.5 363.1L903.5 361.5L904.5 360.6L905.5 357.7M909.8 373.2L910.9 370.2L911.9 369.5L913 369L914.1 368.5L915.1 366.2L916.2 365.6L917.2 365.6L918.3 363.4L919.4 362.5L920.4 360.4L921.5 357.3M925.8 373.2L926.8 370.9L927.8 371.1L928.9 370.4L929.9 369.9L930.9 368.8L931.9 368.8L933 367.3L934 366.9L935 366L936 366.4L937 365.4L938.1 364.5L939.1 363.8L940.1 364.1L941.1 363.2L942.2 362.4L943.2 360.2L944.2 357M948.5 371.9L949.5 372.1L950.5 370.4L951.5 370.6L952.5 370.6L953.6 370L954.6 368.6L955.6 368.4L956.6 369L957.6 368.2L958.6 368.2L959.6 367.8L960.6 366.8L961.7 367.1L962.7 366.5L963.7 365.5L964.7 365.2L965.7 364.3L966.7 364.5L967.7 365L968.7 363.3L969.7 363.7L970.8 362.5L971.8 361.9L972.8 362L973.8 359.8L974.8 356.3M979.1 371.9L980.1 372.4L981.1 372L982.1 370.8L983.1 370.9L984.1 371.6L985.1 369.8L986.1 369.3L987.1 367.7L988.1 367.1L989.1 366.4L990.2 367L991.2 367.5L992.2 367.8L993.2 368.4L994.2 368.4L995.2 369.6L996.2 368.3L997.2 368L998.2 369.4L999.2 368L1000.2 368.9L1001.2 367.5L1002.2 367.9L1003.2 367.4L1004.2 368.2L1005.2 367.7L1006.2 367.6L1007.2 367.6L1008.2 367.6L1009.2 366.6L1010.2 366.8L1011.2 366.4L1012.2 365.6L1013.3 366.4L1014.3 365.6L1015.3 365.4L1016.3 363.8L1017.3 363.7L1018.3 362.8L1019.3 362.6L1020.3 361L1021.3 361L1022.3 361L1023.3 360.4L1024.3 361.4L1025.3 362.1L1026.3 362L1027.3 362.8L1028.3 363.1L1029.3 362.7L1030.3 363.1L1031.3 364.2L1032.3 363L1033.3 362.7L1034.4 361.3L1035.4 360.6L1036.4 359.7L1037.4 360.8L1038.4 360.8L1039.4 361.7L1040.4 362.5L1041.4 362.2L1042.4 362.5L1043.4 361.3L1044.4 359.8L1045.4 357.7M1049.7 373.1L1050.7 371L1051.7 368.5L1052.7 367.4L1053.7 365.2L1054.7 364.3L1055.7 361.7L1056.7 356.7M1061 373.2L1062 371.3L1063 370.6L1064 371.2L1065 370.1L1066 370L1067 369.8L1068 368.3L1069 368.9L1070 367.5L1071 366.9L1072 365.8L1073 365.5L1074 364.7L1075 363.5L1076 363L1077 363.5L1078 364L1079 363.7L1080 364L1081 365L1082 364.8L1083 365L1084 364.7L1085 364.3L1086 363.1L1087 362.4L1088 362.1L1089 361.6L1090 360.1L1091 357.1M1095.3 372.3L1096.4 371.7L1097.4 369.8L1098.5 369.2L1099.5 369L1100.6 368.1L1101.6 366.5L1102.7 365.7L1103.7 365.8L1104.8 363.7L1105.8 363L1106.9 362.5L1107.9 360.6L1109 356.5M1113.3 371.8L1114.3 371.4L1115.3 371.9L1116.3 371L1117.4 371.5L1118.4 370.8L1119.4 370.7L1120.4 368.9L1121.4 368.8L1122.4 368.1L1123.4 368.3L1124.5 367.6L1125.5 366.5L1126.5 366.6L1127.5 365.1L1128.5 364.6L1129.5 363.9L1130.5 364.2L1131.5 363.4L1132.6 363.1L1133.6 362.9L1134.6 363.8L1135.6 364.3L1136.6 364.6L1137.6 365L1138.6 364.7L1139.7 363.2L1140.7 361.9L1141.7 361.8L1142.7 361.9L1143.7 362.2L1144.7 363.3L1145.7 362.8L1146.8 361.9L1147.8 361L1148.8 359.3L1149.8 357.2M1154.1 373.1L1155.1 372.1L1156.1 370.6L1157.2 370.1L1158.2 369.9L1159.2 369.1L1160.2 368.1L1161.3 367.2L1162.3 366.8L1163.3 365.7L1164.3 365.1L1165.4 365.4L1166.4 365.3L1167.4 363.9L1168.4 363L1169.5 361.9L1170.5 360.3L1171.5 357.5M1175.8 372.4L1176.5 367.2" fill="none" stroke="#4656b0" stroke-width="4.0" stroke-linejoin="round" stroke-linecap="round"/>
<text font-size="45" transform="translate(1186.9 375.2) scale(0.922 1)">10 mV</text>
<path d="M1322.6 339.6V378.8H1370.6" fill="none" stroke="#000" stroke-width="5.5"/>
<text font-size="43.4" transform="translate(1317.4 424.5) scale(0.963 1)">100 ms</text>
<text x="1474.7" y="54.1" font-size="73">b</text>
<rect x="1690" y="157" width="59.8" height="246.8" fill="#7d797c" stroke="none"/>
<rect x="1842.9" y="278.6" width="60" height="125.2" fill="#4656b0" stroke="none"/>
<text font-size="42" text-anchor="end" transform="translate(1621.5 54.7) scale(0.920 1)">50</text>
<text font-size="42" text-anchor="end" transform="translate(1621.5 127.3) scale(0.920 1)">40</text>
<text font-size="42" text-anchor="end" transform="translate(1621.5 199.8) scale(0.920 1)">30</text>
<text font-size="42" text-anchor="end" transform="translate(1621.5 272.3) scale(0.920 1)">20</text>
<text font-size="42" text-anchor="end" transform="translate(1621.5 344.8) scale(0.920 1)">10</text>
<text font-size="42" text-anchor="end" transform="translate(1621.5 417.3) scale(0.920 1)">0</text>
<path d="M1640 39.6V405.4M1627.3 403.8H1951M1627.5 41.2H1640M1627.5 113.8H1640M1627.5 186.3H1640M1627.5 258.8H1640M1627.5 331.3H1640M1627.5 403.8H1640M1719.4 403.8V414.4M1872.8 403.8V414.4" fill="none" stroke="#000" stroke-width="3.2"/>
<text x="1719.4" y="456.8" font-size="39.5" text-anchor="middle">WT</text>
<text x="1870" y="456.8" font-size="39.5" text-anchor="middle"><tspan font-style="italic">Fmr1</tspan>-KO</text>
<text font-size="40" text-anchor="middle" transform="translate(1552 223) rotate(-90) scale(0.970 1)">Firing rate (Hz)</text>
<line x1="1719.9" y1="65" x2="1872.8" y2="65" stroke-width="3.2" stroke="#000"/>
<text x="1799.3" y="78" font-size="78" font-weight="bold" text-anchor="middle" letter-spacing="6">**</text>
<g fill="#fff" stroke="#000">
<circle cx="1702.5" cy="113.3" r="6.7" stroke-width="2.9"/>
<circle cx="1737.6" cy="99" r="6.7" stroke-width="2.9"/>
<circle cx="1719.6" cy="128" r="6.7" stroke-width="2.9"/>
<circle cx="1719.6" cy="143.2" r="6.7" stroke-width="2.9"/>
<circle cx="1719.6" cy="215.6" r="6.7" stroke-width="2.9"/>
<circle cx="1719.6" cy="244.6" r="6.7" stroke-width="2.9"/>
<circle cx="1855.9" cy="205.1" r="6.7" stroke-width="2.9"/>
<circle cx="1891" cy="196.2" r="6.7" stroke-width="2.9"/>
<circle cx="1873.3" cy="277.2" r="6.7" stroke-width="2.9"/>
<circle cx="1873.3" cy="316.5" r="6.7" stroke-width="2.9"/>
<circle cx="1873.3" cy="330.8" r="6.7" stroke-width="2.9"/>
<circle cx="1873.3" cy="346" r="6.7" stroke-width="2.9"/>
</g>
<path d="M1704.2 134.3H1734.6M1704.2 180.2H1734.6M1719.4 134.3V180.2" stroke="#000" stroke-width="2.9" fill="none"/>
<path d="M1857.6 252H1888M1857.6 304.6H1888M1872.8 252V304.6" stroke="#000" stroke-width="2.9" fill="none"/>
<text x="-1.2" y="551.7" font-size="75">c</text>
<text x="367.7" y="558.5" font-size="59" text-anchor="middle">in D-APV + NBQX</text>
<text x="369.7" y="638.4" font-size="60" text-anchor="middle" fill="#7d797c">WT</text>
<text x="365.5" y="795.5" font-size="58.8" text-anchor="middle" fill="#4656b0"><tspan font-style="italic">Fmr1</tspan>-KO</text>
<path d="M79 660.2L79.8 660.2L80.6 660.6L81.4 660.1L82.2 661.3L83 658.9L83.8 660.8L84.6 657.7L85.4 662L86.2 660.7L87 657.9L87.8 658.1L88.6 658.6L89.4 659.2L90.2 660.8L91 660L91.8 664.8L92.6 700.1L92.9 715.4L93.4 699.9L94.2 681.7L95 670.2L95.8 677.3L96.5 706L96.6 702.1L97.4 682.2L98.2 673.9L99 665.2L99.8 663.7L100.6 662.2L101.4 661.9L102.2 660.1L103 659.8L103.8 661.8L104.6 659.2L105.4 658.1L106.2 658.8L107 659.9L107.8 660.9L108.6 660.2L109.4 663L110.2 672.9L110.3 676L111 669L111.8 664.8L112.6 660.6L113.4 661L114.2 661.8L115 658.4L115.8 658.9L116.6 657.6L117.4 659.5L118.2 659.5L119 658.8L119.8 659.4L120.6 661.1L121.4 657.9L122.2 661.1L123 658.3L123.8 677.8L124.4 692.3L124.6 688.6L125.4 673.8L126.2 664.9L127 664.8L127.8 661.9L128.6 661.4L129.4 658.9L130.2 660.3L131 657.9L131.8 660.6L132.6 658.4L133.4 658.4L134.2 658.4L135 657.5L135.8 658.6L136.6 657.7L137.4 660.9L138.2 660.4L139 660.2L139.8 657.7L140.6 661L141.4 661.4L142.2 659.7L143 660.2L143.8 661.3L144.6 659.1L145.4 660.9L146.2 719L146.6 748L147 726.9L147.8 696.6L148.6 681.6L149.4 672.2L150.2 666.7L151 663.2L151.8 662.7L152.6 661.6L153.4 662.6L154.2 660.4L155 661.2L155.8 662.1L156.6 661.3L157.4 660.2L158.2 658.7L159 660L159.8 661.8L160.6 657.8L161.4 660.5L162.2 658.1L163 660.5L163.8 661.5L164.6 660.4L165.4 659.2L166.2 661.5L167 659.6L167.8 659.4L168.6 659.9L169.4 661.6L170.2 662.2L171 658.7L171.8 659.1L172.6 659.5L173.4 659.9L174.2 661.2L175 660L175.8 657.9L176.6 658.2L177.4 660.6L178.2 661.3L179 658.2L179.8 657.7L180.6 658.9L181.4 657.8L182.2 659.6L183 660.6L183.8 662.1L184.6 659.1L185.4 658.9L186.2 659.8L187 658.7L187.8 659.2L188.6 660.1L189.4 661.2L190.2 661.3L191 658.6L191.8 661.6L192.6 660.1L193.4 662.1L194.2 660.5L195 661.8L195.8 660.7L196.6 659.6L197.4 666.5L198 668.5L198.2 668.8L199 665.3L199.8 664.3L200.6 662.7L201.4 662.6L202.2 660.4L203 660.3L203.8 661.6L204.6 658.4L205.4 658.8L206.2 659.4L207 661.8L207.8 658.8L208.6 661.2L209.4 661.3L210.2 660.7L211 659.3L211.8 660.8L212.6 661.5L213.4 660.6L214.2 661L215 660L215.8 662.4L216.6 661.9L217.4 660.9L218.2 659.5L219 660.7L219.8 658.7L220.6 678L221 685.4L221.4 679.7L222.2 669.2L223 663.1L223.8 662.4L224.6 663.8L225.4 661.2L226.2 660.4L227 662.4L227.8 659.8L228.6 660.8L229.4 659L230.2 658.7L231 659.3L231.8 659.8L232.6 660.9L233.4 661L234.2 659.7L235 658.3L235.8 659.3L236.6 659.2L237.4 658.2L238.2 660L239 659.7L239.8 660.4L240.6 659.1L241.4 661.7L242.2 659.9L243 662.2L243.8 662.3L244.6 658.9L245.4 661.2L246.2 658.3L247 659.9L247.8 658.9L248.6 661.1L249.4 658.7L250.2 661.8L251 675.2L251.5 688L251.8 682.9L252.6 671.5L253.4 665.3L254.2 693.1L254.4 702.3L255 685.7L255.8 671.8L256.6 665.4L257.4 665.6L258.2 660.5L259 662.8L259.8 661.5L260.6 659.9L261.4 659.6L262.2 657.9L263 680.2L263.8 716L263.8 715.6L264.6 690.2L265.4 675L266.2 666.9L267 666.4L267.8 664.5L268.6 661.4L269.4 661.2L270.2 662.5L271 662.5L271.8 661.9L272.6 660.5L273.4 662.7L274.2 662.3L275 660.8L275.8 659.5L276.6 660.9L277.4 659.9L278.2 661.1L279 662.2L279.8 659.7L280.6 660.8L281.4 660L282.2 661.4L283 662L283.8 659.2L284.6 662.2L285.4 660.4L286.2 659.1L287 658.6L287.8 661.7L288.6 660.1L289.4 660.7L290.2 661.4L291 659.2L291.8 662L292.6 662.3L293.4 660L294.2 659.9L295 658.1L295.8 660L296.6 660.7L297.4 659.3L298.2 660.6L299 661L299.8 657.9L300.6 659.4L301.4 674.9L301.7 679.2L302.2 673L303 663.3L303.8 664.6L304.6 662.7L305.4 660.2L306.2 659.3L307 662.1L307.8 660.2L308.6 662L309.4 659.1L310.2 660.5L311 658.5L311.8 658.8L312.6 661L313.4 659.2L314.2 659.9L315 660.6L315.8 662.7L316.6 659.8L317.4 662.2L318.2 661.2L319 660.7L319.8 666.4L320 666.6L320.6 664.7L321.4 661L322.2 663.2L323 662.6L323.8 658.6L324.6 659.8L325.4 658.6L326.2 658.4L327 660.6L327.8 660.5L328.6 659.7L329.4 659L330.2 661.3L331 657.9L331.8 660.3L332.6 658.8L333.4 659L334.2 659.7L335 662.4L335.8 660.4L336.6 662.1L337.4 659.7L338.2 661.5L339 657.8L339.8 659.6L340.6 659L341.4 658.3L342.2 660.5L343 658.7L343.8 660.6L344.6 658.1L345.4 660.5L346.2 657.9L347 660L347.8 661.9L348.6 660.1L349.4 659.8L350.2 660L351 662.3L351.8 659.8L352.6 659.7L353.4 659.7L354.2 660.2L355 660.3L355.8 660.7L356.6 699.1L357 716.8L357.4 701.5L358.2 683L359 672.9L359.8 667.9L360.6 662.5L361.4 663.8L362.2 659.5L363 662.6L363.8 660.9L364.6 669.3L365 672.8L365.4 667.3L366.2 664.6L367 662.5L367.8 659.7L368.6 661.1L369.4 660.4L370.2 661.2L371 660.2L371.8 661.4L372.6 662.2L373.4 662.8L374.2 662L375 662.1L375.8 661L376.6 659.7L377.4 663.3L378.2 659.6L379 660.4L379.8 662.4L380.6 659.2L381.4 660.4L382.2 658.6L383 659.5L383.8 661.5L384.6 657.8L385.4 658L386.2 660L387 658.1L387.8 658.1L388.6 660L389.4 659.1L390.2 659.1L391 660.7L391.8 658.9L392.6 661.5L393.4 658.5L394.2 661.2L395 659.1L395.8 659.8L396.6 661.6L397.4 658.6L398.2 659.2L399 660.6L399.8 660L400.6 657.9L401.4 658.2L402.2 659.7L403 661.8L403.8 659.7L404.6 668L405.4 687.9L405.5 690L406.2 676.9L407 666.1L407.8 675.6L408.5 702.9L408.6 698.8L409.4 680.8L410.2 670L411 665.6L411.8 661.8L412.6 661.1L413.4 661.7L414.2 662.3L415 659.7L415.8 659.2L416.6 660.8L417.4 660.6L418.2 676.6L418.6 686.3L419 679.7L419.8 669.3L420.6 663.2L421.4 660.6L422.2 660.6L423 661.9L423.8 658.7L424.6 659L425.4 660L426.2 658.9L427 660.3L427.8 658.1L428.6 658.9L429.4 660.3L430.2 659.5L431 658.7L431.8 658.4L432.6 674.3L433.4 725.4L433.6 739L434.2 711.3L435 686.7L435.8 673.5L436.6 666.4L437.4 664.4L438.2 663.2L439 663L439.8 660.2L440.6 658.4L441.4 661L442.2 661.7L443 660.9L443.8 659.3L444.6 660.5L445.4 659.1L446.2 660.8L447 660.4L447.8 660.8L448.6 660.2L449.4 659.9L450.2 660.5L451 665.6L451.5 669.4L451.8 668.5L452.6 664.8L453.4 660.1L454.2 659.2L455 660.9L455.8 661.6L456.6 659.5L457.4 661.4L458.2 660.8L459 659.5L459.8 658.4L460.6 661.8L461.4 660.5L462.2 661.1L463 661.3L463.8 659.7L464.6 658.4L465.4 658L466.2 658.1L467 661.7L467.8 659.2L468.6 661.2L469.4 660.4L470.2 658.3L471 659.9L471.8 659.3L472.6 658.4L473.4 667.5L474 677.3L474.2 673.5L475 664.7L475.8 661.7L476.6 662.3L477.4 660.7L478.2 661.6L479 661.9L479.8 662.7L480.6 662.3L481.4 660.4L482.2 662.3L483 660.7L483.8 662.2L484.6 658.4L485.4 662.1L486.2 661L487 686.9L487.7 724.8L487.8 719.1L488.6 693.4L489.4 678.3L490.2 670.9L491 664.5L491.8 678.6L492.4 698.5L492.6 690.3L493.4 678.5L494.2 670.1L495 665.6L495.8 663.1L496.6 662.7L497.4 661.4L498.2 659.8L499 657.8L499.8 658.8L500.6 657.7L501.4 661.2L502.2 659.2L503 658L503.8 661.2L504.6 659.4L505.4 663.7L506.2 675.5L506.5 682.6L507 675.6L507.8 665.4L508.6 662.8L509.4 660.4L510.2 663.3L511 661.1L511.8 661.7L512.6 658L513.4 659.1L514.2 666.8L514.6 667.6L515 663.8L515.8 664.4L516.6 659.5L517.4 659.7L518.2 659.2L519 658.9L519.8 661.4L520.6 660.7L521.4 660.7L522.2 659.2L523 661.1L523.8 660.8L524.6 661.9L525.4 659.9L526.2 657.9L527 659L527.8 661L528.6 658.5L529.4 658.6L530.2 659.8L531 661L531.8 657.8L532.6 660.8L533.4 661.5L534.2 658.4L535 660.4L535.8 660.4L536.6 660L537.4 661.4L538.2 660.2L539 659.1L539.8 670.3L540.6 700.1L540.7 704.2L541.4 686.7L542.2 675L543 667.2L543.8 664.1L544.6 660.1L545.4 662.1L546.2 662.3L547 658.8L547.8 659.7L548.6 662.4L549.4 688.6L549.7 697.2L550.2 685.2L551 671.8L551.8 664.8L552.6 661.7L553.4 659.9L554.2 660.2L555 659.9L555.8 660.4L556.6 657.8L557.4 659.4L558.2 660.2L559 658.4L559.8 657.6L560.6 662.4L561 667.6L561.4 665.4L562.2 660.5L563 661.7L563.8 658.7L564.6 658.5L565.4 659L566.2 657.9L567 661.5L567.8 660.6L568.6 658.4L569.4 658.5L570.2 661.4L571 658.8L571.8 660.4L572.6 659.2L573.4 657.9L574.2 660.5L575 660.3L575.8 660.1L576.6 661.6L577.4 661.2L578.2 659.2L579 659.8L579.8 658.1L580.6 659.1L581.4 658.9L582.2 660.4L583 671.1L583.8 703.7L583.9 709.8L584.6 688.2L585.4 673.1L586.2 666.8L587 665.7L587.8 661.1L588.6 659.5L589.4 660.1L590.2 661.6L591 658.7L591.8 660L592.6 661.7L593.4 661L594.2 658L595 658.7L595.8 658L596.6 657.6L597.4 659.2L598.2 658L599 658.8L599.8 660.7L600.6 658.5L601.4 660.4L602.2 659L603 658.7L603.8 659.1L604.6 657.6L605.4 659.7L606.2 660.6L607 666.5L607.8 689.6L607.9 690.5L608.6 676.9L609.4 669.9L610.2 663L611 660.5L611.8 660.7L612.6 659.8L613.4 659.9L614.2 658.2L615 659.5L615.8 660L616.6 657.5L617.4 658.8L618.2 659.3L619 659.4L619.8 657.4L620.6 658.8L621.4 658.7L622.2 658.8L623 658.9L623.8 658L624.6 658.1L625.4 659.4L626.2 659.8L627 658.8L627.8 661L628.6 659.4L629.4 660.7L630.2 660.2L631 659.3L631.8 660.9L632.6 659.3L633.4 658.2L634.2 659.9L635 659.2L635.8 658.7L636.6 658.7L637.4 658.9L638.2 659.8L639 658.5L639.8 660.3L640.6 660.2L641.4 661.2L642.2 659.5L643 661.7L643.8 660.8L644.6 670.7L645.4 698L645.5 699.5L646.2 682.6L647 671.6L647.8 664.8L648.6 663.3L649.4 660.4L650.2 659.2L651 658.7L651.8 657.9L652.6 664.1L653 666L653.4 662.7L654.2 660.9L655 661.4L655.8 657.9L656.6 659.5L657.4 659.3L658.2 658.8" fill="none" stroke="#7d797c" stroke-width="4.6" stroke-linejoin="round" stroke-linecap="round"/>
<path d="M74 812.7L74.8 814.9L75.6 815.6L76.4 823.2L76.9 830.4L77.2 827.5L78 822.1L78.8 816.2L79.6 813.9L80.4 811.7L81.2 816.4L82 812.2L82.8 813.8L83.6 823.6L84.4 847.1L84.4 843.5L85.2 830.7L86 819.2L86.8 818.9L87.6 814L88.4 812.3L89.2 814.2L90 812.9L90.8 815.8L91.6 813.1L92.4 815.2L93.2 813.5L94 814.4L94.8 812.4L95.6 811.9L96.4 842.7L97 873L97.2 864L98 841.4L98.8 829.4L99.6 822.8L100.4 829.4L101 845L101.2 839.1L102 824.9L102.8 819.9L103.6 815.3L104.4 817.9L105.2 816.1L106 813.2L106.8 813.1L107.6 813.4L108.4 813.9L109.2 815.5L110 816.1L110.8 815.2L111.6 811.8L112.4 811.4L113.2 829.6L113.9 859.1L114 856.5L114.8 836.2L115.6 823.8L116.4 817.4L117.2 818.6L118 816.7L118.8 816.1L119.6 815.6L120.4 812.1L121.2 813.9L122 813.1L122.8 812L123.6 822.1L124.2 831.7L124.4 828.8L125.2 823.5L126 818.6L126.8 814.6L127.6 814.2L128.4 813.4L129.2 812.7L130 814.5L130.8 812.5L131.6 811.9L132.4 813.3L133.2 815L134 820.8L134.2 823.8L134.8 821.6L135.6 817.9L136.4 815.6L137.2 815.9L138 815.5L138.8 812.2L139.6 811.2L140.4 813.7L141.2 812.2L142 817.3L142.6 823.8L142.8 820L143.6 816.9L144.4 814L145.2 816.7L146 815.1L146.8 814.5L147.6 815.5L148.4 813.5L149.2 853.9L150 960.7L150.1 975.5L150.8 914.5L151.6 869.3L152.4 847.2L153.2 833.8L154 823.6L154.8 823.3L155.6 817L156.4 819.2L157.2 817.4L158 817.2L158.8 812.8L159.6 815.1L160.4 816.2L161.2 814.6L162 812.5L162.8 816.1L163.6 816.3L164.4 814.6L165.2 813L166 815.1L166.8 814.2L167.6 814.1L168.4 815.5L169.2 815.6L170 816.3L170.8 812.4L171.6 811.9L172.4 812.8L173.2 815.7L174 811.9L174.8 815.4L175.6 836.7L176 845L176.4 838.6L177.2 825.6L178 820.8L178.8 817.3L179.6 812.2L180.4 812.9L181.2 812.4L182 814.6L182.8 811.2L183.6 813.1L184.4 810.9L185.2 814L186 811.7L186.8 814.7L187.6 813.1L188.4 813.2L189.2 819.8L189.6 822L190 820.9L190.8 815.7L191.6 816.9L192.4 814.9L193.2 813.7L194 815L194.8 814.8L195.6 812.8L196.4 837L197.1 871.7L197.2 868.5L198 842.5L198.8 830.3L199.6 826.2L200.4 820.3L201.2 815.5L202 813.4L202.8 813.5L203.6 813.4L204.4 816.1L205.2 814.4L206 815.8L206.8 812.5L207.6 814.4L208.4 812.5L209.2 816.1L210 814L210.8 812.5L211.6 812.3L212.4 814L213.2 860.8L213.6 880.1L214 864.3L214.8 844.5L215.6 834.1L216.4 823.6L217.2 820.4L218 827.6L218.7 840.7L218.8 837.7L219.6 825.3L220.4 817.6L221.2 817.2L222 816.2L222.8 815.6L223.6 815.2L224.4 813.1L225.2 814.7L226 815.3L226.8 812L227.6 813.1L228.4 814.2L229.2 812.6L230 815.1L230.8 818.6L230.9 822.9L231.6 816L232.4 813.5L233.2 811.3L234 812.8L234.8 812.7L235.6 811L236.4 811.5L237.2 813.9L238 827.9L238.8 884.8L239 895.5L239.6 865.6L240.4 846.7L241.2 833.1L242 824.1L242.8 817L243.6 819L244.4 817L245.2 813.5L246 811.9L246.8 815L247.6 812.4L248.4 814.7L249.2 823.5L249.7 830.9L250 828.5L250.8 818.4L251.6 815.1L252.4 814.3L253.2 813.2L254 813.3L254.8 814.8L255.6 812.8L256.4 812.2L257.2 810.4L258 811.5L258.8 811.2L259.6 812.8L260.4 812.1L261.2 810.4L262 815.6L262.8 813.6L263.6 811.9L264.4 813.6L265.2 813L266 814.5L266.8 812.8L267.6 831.1L267.9 839.8L268.4 829.8L269.2 821.6L270 818.6L270.8 817.8L271.6 813.4L272.4 815.4L273.2 814.4L274 814.6L274.8 813.5L275.6 815.2L276.4 810.4L277.2 814.8L278 810.8L278.8 813.2L279.6 816.4L280.4 819.1L281 828L281.2 826L282 819.5L282.8 816.7L283.6 814.2L284.4 818.1L285.2 847.6L285.4 852L286 838.2L286.8 824.4L287.6 822.7L288.4 819.4L289.2 814.7L290 816.1L290.8 815.5L291.6 810.8L292.4 812.5L293.2 815.6L294 814.3L294.8 814.7L295.6 814.2L296.4 813.1L297.2 811.7L298 811.5L298.8 812.6L299.6 815.4L300.4 821L300.4 819.6L301.2 816.4L302 814.1L302.8 812.9L303.6 815L304.4 812.3L305.2 815L306 814.3L306.8 813.7L307.6 815.7L308.4 813.3L309.2 819.1L309.8 827.6L310 823.3L310.8 821L311.6 816.9L312.4 814.8L313.2 811.9L314 815.3L314.8 811.7L315.6 812.5L316.4 813.9L317.2 811.7L318 814.4L318.8 816.5L319.6 813.6L320.4 824.7L321 831.3L321.2 831.1L322 820.4L322.8 815.1L323.6 814.5L324.4 813.4L325.2 813.9L326 812.4L326.8 813.3L327.6 866.7L328 896.1L328.4 878.5L329.2 850.5L330 835.2L330.8 828.5L331.6 820L332.4 820.3L333.2 817.6L334 814.6L334.8 815.4L335.6 814.2L336.4 813.2L337.2 816.1L338 815.7L338.8 811.1L339.6 811.6L340.4 811.7L341.2 813.1L342 812L342.8 812L343.6 823L344.4 847.1L344.5 848.2L345.2 835.9L346 822.6L346.8 818.2L347.6 828.7L348.3 850.1L348.4 846.4L349.2 831.9L350 821.5L350.8 819.6L351.6 817.5L352.4 814.4L353.2 815.7L354 817.2L354.8 817L355.6 817.1L356.4 814.2L357.2 815.2L358 814.8L358.8 812.2L359.6 816.9L360.4 811.8L361.2 816.6L362 811.2L362.8 815L363.6 814.4L364.4 815.8L365.2 811.3L366 816.4L366.8 813.6L367.6 816.7L368 819L368.4 818.6L369.2 815.4L370 813.2L370.8 813.6L371.6 815.5L372.4 811.2L373.2 812.8L374 812.3L374.8 813.8L375.6 813L376.4 814.8L377.2 811.1L378 811.6L378.8 813.7L379.6 814.2L380.4 822.6L380.7 824.7L381.2 818.1L382 818.6L382.8 813.4L383.6 816.4L384.4 811.4L385.2 815L386 814.8L386.8 812L387.6 814.6L388.4 815L389.2 812.9L390 810.5L390.8 811.3L391.6 815.1L392.4 815.8L393.2 815.7L394 814.2L394.8 811.8L395.6 814.1L396.4 814.7L397.2 813.6L398 811.7L398.8 815.9L399.6 811.5L400.4 810.7L401.2 811.3L402 812.9L402.8 813.2L403.6 813.3L404.4 815.9L405 822.9L405.2 818.8L406 818.2L406.8 815.2L407.6 813.1L408.4 812.6L409.2 816.3L410 814.2L410.8 813.7L411.6 816L412.4 811.4L413.2 813.6L414 811.8L414.8 814.7L415.6 904.4L416 954.3L416.4 921.7L417.2 875.8L418 847.2L418.8 832.4L419.6 832.8L420 846L420.4 835.4L421.2 825.7L422 818.3L422.8 816.8L423.6 833.9L424.2 854.8L424.4 847.6L425.2 831.2L426 826.1L426.8 817.9L427.6 819.7L428.4 813.7L429.2 813.4L430 812.6L430.8 813.4L431.6 815L432.4 814.1L433.2 816L434 813L434.8 813.3L435.6 821.6L436 825.7L436.4 821.4L437.2 816.9L438 815.6L438.8 813.1L439.6 811.6L440.4 812.4L441.2 815.6L442 815.9L442.8 813.3L443.6 816.1L444.4 816.2L445.2 828.5L445.4 829.4L446 821.8L446.8 816.2L447.6 817.3L448.4 817.2L449.2 816.1L450 816L450.8 812.7L451.6 813.5L452.4 816.5L453.2 813.8L454 815.2L454.8 815.9L455.6 814.8L456.4 825.2L457 835L457.2 833.9L458 821.6L458.8 818.9L459.6 818.4L460.4 821.6L461.2 861.5L461.4 873.6L462 855.4L462.8 839.3L463.6 830L464.4 821.9L465.2 817.8L466 814.4L466.8 813.9L467.6 816.3L468.4 814.7L469.2 812.9L470 814.5L470.8 816.2L471.6 817L472.4 823.3L472.7 827.6L473.2 823.8L474 820.3L474.8 815.1L475.6 815.1L476.4 816.2L477.2 813.9L478 812.7L478.8 814.1L479.6 812.5L480.4 810.7L481.2 813.2L482 814.2L482.8 812.9L483.6 842.2L484 857.2L484.4 843.9L485.2 832.2L486 823.7L486.8 821.5L487.6 815.7L488.4 818.4L489.2 813.2L490 812.3L490.8 814.4L491.6 815L492.4 812.9L493.2 814.8L494 813.9L494.8 811.9L495.6 816.4L496.4 811.8L497.2 812.5L498 813.6L498.8 813.2L499.6 814.9L500.4 814.3L501.2 814.3L502 814.4L502.8 810.6L503.6 810.4L504.4 812.2L505.2 810.7L506 815.1L506.8 813.7L507.6 815.7L508.4 811.8L509.2 814.7L510 812.3L510.8 814.9L511.6 814.2L512.4 822L513 832.3L513.2 828.3L514 819.6L514.8 816.4L515.6 816.3L516.4 813.7L517.2 813.5L518 815.6L518.8 815.3L519.6 823.7L520.4 858.8L520.6 868.9L521.2 852.7L522 835.6L522.8 826.5L523.6 821.8L524.4 820.1L525.2 816.8L526 813.9L526.8 812.8L527.6 812.4L528.4 816.3L529.2 815.5L530 813.4L530.8 815L531.6 813.6L532.4 814.7L533.2 814L534 814.4L534.8 813.6L535.6 811.8L536.4 813L537.2 816.6L538 814.2L538.8 813.8L539.6 865.3L540.3 936.1L540.4 929.3L541.2 881.6L542 850L542.8 835.6L543.6 829.2L544.4 823.6L545.2 819.3L546 814.6L546.8 815.9L547.6 813.9L548.4 813.2L549.2 811.2L550 822.2L550.8 852L551 861.4L551.6 846.7L552.4 828.7L553.2 820.3L554 819.9L554.8 816L555.6 812.4L556.4 816.4L557.2 814.9L558 812.9L558.8 832.9L559.6 875.4L559.6 874.7L560.4 851.2L561.2 835L562 824.6L562.8 821.4L563.6 820L564.4 815.4L565.2 816.4L566 815.4L566.8 813.1L567.6 812.3L568.4 816L569.2 813L570 814.6L570.8 814.1L571.6 814.6L572.4 813.3L573.2 810.1L574 815.2L574.8 814.7L575.6 810.3L576.4 813.2L577.2 810.8L578 813.4L578.8 812.1L579.6 812.6L580.4 811.5L581.2 816.7L581.6 822L582 815.3L582.8 815.3L583.6 811.2L584.4 812.9L585.2 811.9L586 814.5L586.8 814.1L587.6 813.4L588.4 812.7L589.2 813.1L590 813.5L590.8 815.7L591.6 810.8L592.4 810.7L593.2 814.1L594 811.6L594.8 815.4L595.6 814.8L596.4 813.7L597.2 814.1L598 816.7L598.8 820.4L599.4 822L599.6 819.6L600.4 817.8L601.2 814.7L602 815.2L602.8 812.8L603.6 812.5L604.4 814L605.2 812.5L606 816.9L606.8 815.8L607.6 814.8L608.4 821.6L609.2 838.7L609.2 837L610 825.5L610.8 819L611.6 817.7L612.4 813.5L613.2 812.9L614 815.1L614.8 815.9L615.6 811.2L616.4 818.8L617.2 839.4L617.3 840.3L618 826.4L618.8 822.7L619.6 815.4L620.4 813L621.2 816.4L622 812L622.8 811.7L623.6 814L624.4 811.2L625.2 813.1L626 812.6L626.8 812.4L627.6 820.5L628.4 827.1L628.5 829.4L629.2 823.4L630 816L630.8 814.3L631.6 815.7L632.4 815.4L633.2 813.7L634 814.3L634.8 813.8L635.6 813.9L636.4 810.8L637.2 813L638 811.7L638.8 815.9L639.6 813.4L640.4 814.8L641.2 812L642 814.4L642.8 814.9L643.6 810.9L644.4 814.5L645.2 814.1L646 814.3L646.8 887.2L647.3 938L647.6 912.2L648.4 868.4L649.2 846L650 829.7L650.8 824.8L651.6 817.3L652.4 815.6L653.2 812.9L654 814.8L654.8 817.7L655 822L655.6 816.7L656.4 815L657.2 812.9L658 810.6" fill="none" stroke="#4656b0" stroke-width="4.8" stroke-linejoin="round" stroke-linecap="round"/>
<text font-size="45.6" transform="translate(566.6 972.3) scale(0.944 1)">50 pA</text>
<path d="M694.4 935.4V976.6H731.9" fill="none" stroke="#000" stroke-width="5.5"/>
<text font-size="45.9" transform="translate(689.6 1020.8) scale(0.948 1)">0.5 s</text>
<text x="787.8" y="559.3" font-size="73">d</text>
<path d="M979.8 543.6h3.6M989.4 543.6h3.2M998.1 543.6h0.4" fill="none" stroke="#7d797c" stroke-width="4.5" stroke-linecap="round"/>
<path d="M1096.8 543.6h3.6M1106.4 543.6h3.2M1115.1 543.6h0.4" fill="none" stroke="#2d3073" stroke-width="4.5" stroke-linecap="round"/>
<text x="1010.7" y="552.4" font-size="39" fill="#7d797c">WT</text>
<text x="1133.5" y="552.4" font-size="39" fill="#2d3073"><tspan font-style="italic">Fmr1</tspan>-KO</text>
<text x="952.9" y="943.3" font-size="40" text-anchor="middle">0</text>
<text x="1073.9" y="943.3" font-size="40" text-anchor="middle">100</text>
<text x="1195.3" y="943.3" font-size="40" text-anchor="middle">200</text>
<text x="1317" y="943.3" font-size="40" text-anchor="middle">300</text>
<path d="M952.5 598.8V897.1M944.3 895.6H1318.5M944.3 600.3H952.5M944.3 747.9H952.5M952.9 895.6V905.1M1073.9 895.6V905.1M1195.3 895.6V905.1M1317 895.6V905.1" fill="none" stroke="#000" stroke-width="3"/>
<text font-size="40" text-anchor="end" transform="translate(931 614.6) scale(0.960 1)">1.0</text>
<text font-size="40" text-anchor="end" transform="translate(931 762.2) scale(0.960 1)">0.5</text>
<text font-size="40" text-anchor="end" transform="translate(931 909.9) scale(0.960 1)">0.0</text>
<text x="1137" y="983" font-size="40.5" text-anchor="middle">sIPSCs amplitude (pA)</text>
<text font-size="40" text-anchor="middle" transform="translate(867.4 745.7) rotate(-90) scale(0.985 1)">Cumulative probability</text>
<path d="M957.5 895.3C957.9 893 958.6 886.4 959.7 881.8C960.8 877.2 963 872.4 964.2 867.7C965.4 863 966.1 858.4 967.1 853.6C968.1 848.8 969.1 843.7 970 838.8C970.9 833.9 971.7 828.9 972.6 824.1C973.5 819.3 974.5 814.7 975.4 810C976.3 805.3 977.1 800.6 978 795.9C978.9 791.2 979.9 786.5 980.9 781.8C981.9 777.1 982.9 772.6 983.8 767.7C984.7 762.8 985.5 757.9 986.5 752.5C987.5 747.1 988.6 741.2 990 735.5C991.4 729.8 993.1 723.8 994.6 718.1C996.1 712.5 997.7 706.8 999.2 701.6C1000.7 696.4 1002.2 691.7 1003.7 687C1005.2 682.3 1006.6 677.7 1008.3 673.3C1010 668.9 1011.8 664.4 1013.8 660.4C1015.8 656.4 1017.8 653 1020.2 649.5C1022.7 646 1025.6 642.6 1028.5 639.4C1031.4 636.2 1034.2 633.1 1037.6 630.2C1040.9 627.3 1044.9 624.4 1048.6 622C1052.3 619.6 1055.6 617.5 1059.6 615.6C1063.6 613.7 1068 612 1072.4 610.5C1076.8 609 1081.6 607.9 1086.2 606.9C1090.8 605.9 1094.6 605.3 1099.9 604.6C1105.2 603.9 1113.2 603.1 1118.2 602.7C1123.2 602.3 1124 602.2 1130 602C1136 601.8 1144.3 601.5 1154.2 601.3C1164.1 601.1 1173.4 600.9 1189.4 600.7C1205.4 600.6 1228.7 600.5 1250 600.4C1271.3 600.3 1306.2 600.2 1317.5 600.2" fill="none" stroke="#7d797c" stroke-width="5" stroke-linecap="round" stroke-dasharray="5.6 6.6"/>
<path d="M957.5 895.3C957.9 894.5 959.1 893.3 960.1 890.8C961.1 888.3 962 884.1 963.6 880.5C965.2 876.9 967.6 873 969.7 869C971.8 865 974.3 860.9 976.4 856.8C978.5 852.7 980.3 848.8 982.2 844.6C984.1 840.4 985.8 836.1 987.6 831.8C989.4 827.5 991.1 823.3 992.8 819C994.5 814.7 996 810.6 997.6 806.2C999.2 801.8 1000.7 797.3 1002.1 792.7C1003.5 788.1 1004.5 783.4 1005.9 778.6C1007.3 773.8 1009 768.6 1010.6 763.9C1012.2 759.2 1013.8 754.5 1015.2 750.2C1016.7 745.9 1017.8 742.4 1019.3 738.3C1020.8 734.2 1022.2 729.6 1023.9 725.5C1025.6 721.4 1027.4 717.6 1029.4 713.6C1031.4 709.6 1033.5 705.3 1035.8 701.6C1038.1 697.9 1040.7 695 1043.1 691.6C1045.5 688.2 1048 684.7 1050.4 681.5C1052.9 678.3 1055.3 675.5 1057.8 672.3C1060.2 669.1 1062.5 665.8 1065.1 662.3C1067.7 658.8 1070.5 654.8 1073.3 651.3C1076 647.8 1078.5 644.4 1081.6 641.2C1084.6 638 1088.2 634.9 1091.6 632.1C1094.9 629.3 1098.2 626.6 1101.7 624.3C1105.2 622 1109 619.9 1112.7 618.3C1116.4 616.7 1119.8 615.8 1123.7 614.7C1127.6 613.6 1130.8 612.8 1135.9 611.8C1141 610.8 1147.6 609.8 1154.2 609C1160.8 608.2 1169.5 607.7 1175.4 607.3C1181.3 606.9 1177.8 607.1 1189.4 606.6C1201 606.1 1228.1 604.6 1245.2 604C1262.3 603.4 1280 603.1 1292.1 602.8C1304.1 602.5 1313.3 602.4 1317.5 602.3" fill="none" stroke="#2d3073" stroke-width="5" stroke-linecap="round" stroke-dasharray="5.6 6.6"/>
<rect x="1206.4" y="832.3" width="44.2" height="45.8" fill="#7d797c" stroke="none"/>
<rect x="1272.9" y="772.5" width="44.1" height="105.6" fill="#4656b0" stroke="none"/>
<text font-size="31" text-anchor="end" transform="translate(1169 677.9) scale(0.960 1)">150</text>
<text font-size="31" text-anchor="end" transform="translate(1169 747.2) scale(0.960 1)">100</text>
<text font-size="31" text-anchor="end" transform="translate(1169 817.5) scale(0.960 1)">50</text>
<text font-size="31" text-anchor="end" transform="translate(1169 887.7) scale(0.960 1)">0</text>
<path d="M1184.8 666.8V879.6M1177.3 668.3H1184.8M1177.3 737.6H1184.8M1177.3 807.9H1184.8M1177.3 878.1H1184.8" fill="none" stroke="#000" stroke-width="3"/>
<text font-size="36" text-anchor="middle" transform="translate(1111.2 765) rotate(-90) scale(0.955 1)">Amplitude (pA)</text>
<g fill="#fff" stroke="#000">
<circle cx="1228.7" cy="812" r="5" stroke-width="2.5"/>
<circle cx="1211.1" cy="826.5" r="5" stroke-width="2.5"/>
<circle cx="1222.9" cy="834" r="5" stroke-width="2.5"/>
<circle cx="1234.6" cy="838.2" r="5" stroke-width="2.5"/>
<circle cx="1246.3" cy="836.3" r="5" stroke-width="2.5"/>
<circle cx="1211.1" cy="841.7" r="5" stroke-width="2.5"/>
<circle cx="1294.9" cy="714.5" r="5" stroke-width="2.5"/>
<circle cx="1285.8" cy="747.1" r="5" stroke-width="2.5"/>
<circle cx="1303.4" cy="750.7" r="5" stroke-width="2.5"/>
<circle cx="1294.9" cy="789.6" r="5" stroke-width="2.5"/>
<circle cx="1294.9" cy="805.8" r="5" stroke-width="2.5"/>
<circle cx="1294.9" cy="827.2" r="5" stroke-width="2.5"/>
</g>
<path d="M1217.8 826.5H1239.6M1217.8 832.3H1239.6M1228.7 826.5V832.3" stroke="#000" stroke-width="2.6" fill="none"/>
<path d="M1284 754.9H1305.8M1284 789.4H1305.8M1294.9 754.9V789.4" stroke="#000" stroke-width="2.6" fill="none"/>
<line x1="1228.7" y1="689.2" x2="1294.5" y2="689.2" stroke-width="3" stroke="#000"/>
<text x="1264.8" y="696.6" font-size="78" font-weight="bold" text-anchor="middle" letter-spacing="6">**</text>
<text x="1394.1" y="552.5" font-size="75">e</text>
<path d="M1592.3 544.2h3.6M1601.9 544.2h3.2M1610.6 544.2h0.4" fill="none" stroke="#7d797c" stroke-width="4.5" stroke-linecap="round"/>
<path d="M1709.8 544.2h3.6M1719.4 544.2h3.2M1728.1 544.2h0.4" fill="none" stroke="#2d3073" stroke-width="4.5" stroke-linecap="round"/>
<text x="1622.5" y="552.6" font-size="39" fill="#7d797c">WT</text>
<text x="1746.1" y="552.6" font-size="39" fill="#2d3073"><tspan font-style="italic">Fmr1</tspan>-KO</text>
<text x="1565.3" y="941" font-size="40" text-anchor="middle">0</text>
<text x="1686.8" y="941" font-size="40" text-anchor="middle">5</text>
<text x="1808.4" y="941" font-size="40" text-anchor="middle">10</text>
<text x="1930.3" y="941" font-size="40" text-anchor="middle">15</text>
<path d="M1565.5 595.2V895.5M1556.8 894H1931.8M1556.8 596.7H1565.5M1556.8 745H1565.5M1565.3 894V903.5M1686.8 894V903.5M1808.4 894V903.5M1930.3 894V903.5" fill="none" stroke="#000" stroke-width="3"/>
<text font-size="40" text-anchor="end" transform="translate(1541 611) scale(0.960 1)">1.0</text>
<text font-size="40" text-anchor="end" transform="translate(1541 759.3) scale(0.960 1)">0.5</text>
<text font-size="40" text-anchor="end" transform="translate(1541 908.3) scale(0.960 1)">0.0</text>
<text x="1748" y="982.9" font-size="40" text-anchor="middle">sIPSCs frequency (Hz)</text>
<text font-size="40" text-anchor="middle" transform="translate(1473.3 745.7) rotate(-90) scale(0.985 1)">Cumulative probability</text>
<path d="M1565.5 893.6C1567.8 891.4 1575.2 884.7 1579.2 880.5C1583.2 876.3 1586.5 873.1 1589.2 868.4C1591.9 863.7 1593.3 858 1595.3 852.3C1597.3 846.6 1599.3 839.8 1601.3 834.1C1603.3 828.4 1605.4 822.5 1607.4 818C1609.4 813.5 1610.3 814.1 1613.4 806.9C1616.6 799.6 1622 785.3 1626.3 774.6C1630.7 763.8 1635 752.5 1639.3 742.2C1643.6 732 1647.9 721.7 1652.2 713.1C1656.5 704.5 1660.8 697.5 1665.1 690.5C1669.5 683.5 1673.8 677 1678.1 671.1C1682.4 665.1 1686.2 660.8 1691 654.9C1695.9 649 1701.8 640.9 1707.2 635.5C1712.6 630.1 1717.4 626.6 1723.4 622.6C1729.3 618.5 1736.8 614.5 1742.8 611.3C1748.7 608 1752.5 605.2 1758.9 603.2C1765.4 601.2 1771.3 600.2 1781.6 599.3C1791.8 598.4 1795.6 598.1 1820.4 597.7C1845.1 597.3 1912 597.1 1930.3 597" fill="none" stroke="#7d797c" stroke-width="5.8" stroke-linecap="round" stroke-dasharray="5.6 6.6"/>
<path d="M1565.5 893.6C1567.8 891.4 1575.2 884.7 1579.2 880.5C1583.2 876.3 1586.5 873.1 1589.2 868.4C1591.9 863.7 1593.3 858 1595.3 852.3C1597.3 846.6 1599.3 839.8 1601.3 834.1C1603.3 828.4 1605.4 822.5 1607.4 818C1609.4 813.5 1610.3 814.1 1613.4 806.9C1616.6 799.6 1622 785.3 1626.3 774.6C1630.7 763.8 1635 752.5 1639.3 742.2C1643.6 732 1647.9 721.7 1652.2 713.1C1656.5 704.5 1660.8 697.5 1665.1 690.5C1669.5 683.5 1673.8 677 1678.1 671.1C1682.4 665.1 1686.2 660.8 1691 654.9C1695.9 649 1701.8 640.9 1707.2 635.5C1712.6 630.1 1717.4 626.6 1723.4 622.6C1729.3 618.5 1736.8 614.5 1742.8 611.3C1748.7 608 1752.5 605.2 1758.9 603.2C1765.4 601.2 1771.3 600.2 1781.6 599.3C1791.8 598.4 1795.6 598.1 1820.4 597.7C1845.1 597.3 1912 597.1 1930.3 597" fill="none" stroke="#2d3073" stroke-width="4.8" stroke-linecap="round" stroke-dasharray="5.6 6.6"/>
<rect x="1819" y="756.2" width="44.1" height="120" fill="#7d797c" stroke="none"/>
<rect x="1885.6" y="755.8" width="44.2" height="120.4" fill="#4656b0" stroke="none"/>
<text font-size="31" text-anchor="end" transform="translate(1780.5 667.7) scale(0.960 1)">9</text>
<text font-size="31" text-anchor="end" transform="translate(1780.5 741.3) scale(0.960 1)">6</text>
<text font-size="31" text-anchor="end" transform="translate(1780.5 815) scale(0.960 1)">3</text>
<text font-size="31" text-anchor="end" transform="translate(1780.5 887.8) scale(0.960 1)">0</text>
<path d="M1796.9 654.6V877.7M1789.4 656.1H1796.9M1789.4 729.7H1796.9M1789.4 803.4H1796.9M1789.4 876.2H1796.9" fill="none" stroke="#000" stroke-width="3"/>
<text font-size="34.5" text-anchor="middle" transform="translate(1752.7 763.7) rotate(-90) scale(1.015 1)">Frequency (Hz)</text>
<g fill="#fff" stroke="#000">
<circle cx="1831.5" cy="746.7" r="5.1" stroke-width="2.5"/>
<circle cx="1850.2" cy="740.5" r="5.1" stroke-width="2.5"/>
<circle cx="1831.5" cy="760.7" r="5.1" stroke-width="2.5"/>
<circle cx="1850.2" cy="754.3" r="5.1" stroke-width="2.5"/>
<circle cx="1850.2" cy="762.6" r="5.1" stroke-width="2.5"/>
<circle cx="1841.1" cy="773.9" r="5.1" stroke-width="2.5"/>
<circle cx="1890" cy="734.9" r="5.1" stroke-width="2.5"/>
<circle cx="1907.7" cy="731.2" r="5.1" stroke-width="2.5"/>
<circle cx="1925.8" cy="734.9" r="5.1" stroke-width="2.5"/>
<circle cx="1907.7" cy="743.4" r="5.1" stroke-width="2.5"/>
<circle cx="1907.7" cy="773.9" r="5.1" stroke-width="2.5"/>
<circle cx="1907.7" cy="818.1" r="5.1" stroke-width="2.5"/>
</g>
<path d="M1834.4 755.2H1848.4M1834.4 760.2H1848.4M1841.4 755.2V760.2" stroke="#000" stroke-width="2.6" fill="none"/>
<path d="M1897.2 741.5H1918.6M1897.2 770H1918.6M1907.9 741.5V770" stroke="#000" stroke-width="2.9" fill="none"/>
<line x1="1841.1" y1="684.8" x2="1907.7" y2="684.8" stroke-width="3.2" stroke="#000"/>
<text font-size="43" text-anchor="middle" transform="translate(1874.8 666) scale(1.110 1)">n.s.</text>
<text x="0.5" y="1104.8" font-size="73">f</text>
<text x="481" y="1125.8" font-size="58" text-anchor="middle"><tspan font-style="italic">Fmr1</tspan>-KO vs WT</text>
<clipPath id="cf"><rect x="140.9" y="1164.8" width="682.8" height="557.6"/></clipPath>
<g clip-path="url(#cf)">
<path d="M532.1 1693.8h0M545.5 1696.3h0M520.4 1695.4h0M532.9 1695.1h0M554.7 1694.7h0M540.9 1696.7h0M477.9 1696.3h0M551.5 1680.3h0M533.1 1693.1h0M529.2 1696.7h0M545.7 1695.3h0M525.4 1695.1h0M525.1 1693.8h0M570.6 1694.5h0M521.3 1695.4h0M552.4 1695.5h0M543.8 1693h0M516.4 1694.8h0M522.5 1677.4h0M540.9 1693.7h0M537.4 1696.5h0M630 1694.2h0M525.1 1695h0M537.5 1694.1h0M548.3 1696.5h0M553.1 1676.3h0M538.7 1695.1h0M516.3 1694.3h0M517.5 1679.6h0M523.8 1678.9h0M555.2 1672.5h0M529.9 1696.7h0M529 1686.9h0M619.2 1696h0M517.1 1696.3h0M553.7 1682.1h0M540.9 1696.9h0M544.2 1689.2h0M545.7 1692h0M546.2 1684.7h0M553.3 1679.8h0M545.8 1685.1h0M551.3 1689.8h0M536.9 1695.7h0M483.4 1696.5h0M499.8 1696.2h0M506 1697.2h0M538.8 1696.2h0M521.2 1670.4h0M553.1 1675.6h0M589.7 1697h0M534.2 1694.8h0M543.3 1690.2h0M532.3 1695.5h0M556.3 1694.7h0M551.6 1695.4h0M539.3 1696.2h0M546.6 1696.4h0M546.6 1695.7h0M536.6 1696.8h0M577.1 1696.6h0M542.3 1695.4h0M527.1 1695.4h0M550.2 1677.2h0M556.1 1677.9h0M535.8 1697.1h0M549.4 1691.5h0M546.2 1685.3h0M538.6 1695h0M539.8 1695.3h0M549.8 1696.6h0M554 1679.4h0M593.8 1696.1h0M531.9 1695.2h0M551.5 1682.8h0M610.5 1695.8h0M542 1690.7h0M625.4 1693.9h0M548.5 1692.8h0M557.6 1695.7h0M540.7 1695.9h0M537.4 1696.9h0M521.2 1684.5h0M642.5 1693.1h0M552.6 1690.6h0M532 1696h0M540.5 1694.4h0M547.7 1681.2h0M547.3 1686.2h0M519.8 1671.6h0M637 1693.9h0M549.6 1680.5h0M525.8 1683.7h0M538.1 1696.6h0M551.2 1686.8h0M534.1 1693.3h0M534.9 1696.9h0M526.1 1694.7h0M482.4 1693.8h0M518.8 1663h0M527.7 1690.1h0M523.1 1694.1h0M584.3 1695h0M540.7 1692.7h0M620.1 1696.3h0M550.9 1690.8h0M533.1 1694.9h0M549.1 1691.8h0M528.5 1686.9h0M541.1 1695.3h0M635.9 1695.5h0M542.6 1690.2h0M515.1 1673.1h0M536.4 1697.2h0M526.3 1697.1h0M540.7 1693.4h0M545.9 1687.3h0M554.1 1678.3h0M526.9 1689.1h0M555.3 1667.7h0M554.2 1688.7h0M550.4 1690.5h0M539.5 1695.4h0M516 1664.5h0M552.7 1678.7h0M526.7 1689.6h0M544.4 1695h0M534.6 1696.1h0M630.3 1693.3h0M526.9 1693.4h0M622.9 1696.6h0M521.3 1693.8h0M530.3 1695.2h0M539 1697h0M521.8 1673.3h0M484.1 1694.2h0M531.4 1691.6h0M528.4 1686h0M544.8 1692.6h0M551.5 1693.1h0M541.7 1694.5h0M527.6 1690.4h0M530.5 1694.7h0M546.4 1686.6h0M542 1697.1h0M539.3 1696.2h0M521.7 1695.5h0M521.9 1671.2h0M547.7 1695.3h0M506.6 1697h0M539.1 1696.8h0M523 1687.2h0M505.2 1696.6h0M519.6 1667.1h0M470.9 1697h0M525 1684.2h0M530.6 1690h0M539.7 1695h0M538.9 1695h0M529.7 1696.6h0M549.1 1690.1h0M522 1682.8h0M548.9 1694.5h0M530.5 1693.1h0M537.2 1697h0M545 1696.6h0M541.1 1695.6h0M551 1677.7h0M531.5 1696.1h0M556.5 1683h0M549.8 1696.9h0M538.1 1695.9h0M525.9 1689.2h0M533 1693.4h0M540.3 1695.1h0M556.6 1662.8h0M520.4 1676.2h0M549.5 1675.7h0M518.5 1671.9h0M581.6 1695.5h0M533.2 1696.7h0M541.4 1696.8h0M535.8 1697h0M523.2 1695.2h0M555.7 1671.2h0M509.9 1696.2h0M531.4 1696.2h0M555.3 1680.6h0M532.9 1693.1h0M563.6 1696.2h0M551.3 1687.8h0M533.4 1697.2h0M522 1684.1h0M550 1692.6h0M534.9 1696.7h0M536.5 1697.1h0M532.5 1697.1h0M539.6 1696.2h0M539.1 1695.7h0M604.8 1694.5h0M529 1693.1h0M518.9 1693.1h0M553.1 1677.1h0M461.7 1693.7h0M555.7 1668.9h0M521.2 1674.3h0M550.2 1685.3h0M552.9 1671.5h0M547.6 1687h0M633.6 1694.4h0M532.2 1697h0M524.8 1694.6h0M531.3 1691.8h0M542.9 1692.7h0M519.6 1675h0M519 1680.4h0M604.3 1695.1h0M537.2 1696.5h0M533.1 1694.3h0M531.2 1695.5h0M548.8 1682.4h0M542.8 1695.6h0M533.6 1695.5h0M530.3 1695.2h0M524.5 1684.9h0M582.9 1696.9h0M544.6 1688.8h0M547.3 1692.1h0M534.1 1697h0M535.5 1696.8h0M524 1682.9h0M511.7 1695.1h0M517.5 1692.6h0M540.9 1692.7h0M551.7 1671.4h0M456.4 1695.3h0M556.1 1679.3h0M507.2 1696.3h0M547.9 1686.6h0M532.6 1696.5h0M479.7 1693.8h0M530.1 1692.9h0M557.2 1687.2h0M518.8 1666h0M532.7 1697.2h0M536.9 1696.7h0M522.5 1693.7h0M541.1 1695.4h0M523.1 1697.2h0M604.8 1693.7h0M597.2 1693.5h0M511.5 1695.7h0M572.1 1695.7h0M539.5 1696.1h0M544.3 1688.3h0M539 1696.4h0M548.7 1691.9h0M531.4 1694h0M542.8 1689.5h0M552.3 1671.6h0M546 1684.5h0M643.3 1694.9h0M535.5 1696.1h0M531.1 1694.2h0M537 1696.9h0M462.8 1693.3h0M550.3 1689h0M550.8 1689.8h0M533.3 1696.2h0M585.6 1696h0M520.2 1692h0M530.4 1695.9h0M546.5 1689.7h0M497.4 1693.4h0M555.7 1691.8h0M536.2 1697h0M550 1695.1h0M545.2 1694.2h0M535.4 1695.8h0M604.6 1695.5h0M518.4 1683.6h0M547.6 1691.3h0M549.6 1675.7h0M541.9 1696.4h0M627.5 1696.3h0M536.1 1696.9h0M536.8 1696.7h0M554.2 1664.4h0M557.2 1696.3h0M459.4 1694.3h0M552.3 1680.2h0M524.6 1697.2h0M620 1693.6h0M649.6 1696.2h0M544.4 1691.5h0M543 1691.5h0M583.9 1694h0M526.6 1690.2h0M531.9 1692.8h0M535 1696.8h0M513.9 1697.2h0M513.9 1692.2h0M513.9 1687.2h0M513.9 1682.2h0M513.9 1677.3h0M513.9 1672.3h0M513.9 1667.3h0M513.9 1662.3h0M513.9 1657.3h0M513.9 1652.3h0M515.7 1697.2h0M515.7 1692.2h0M515.7 1687.2h0M515.7 1682.2h0M515.7 1677.3h0M515.7 1672.3h0M515.7 1667.3h0M515.7 1662.3h0M515.7 1657.3h0M517.4 1697.2h0M517.4 1692.2h0M517.4 1687.2h0M517.4 1682.2h0M517.4 1677.3h0M517.4 1672.3h0M517.4 1667.3h0M517.4 1662.3h0M519.1 1697.2h0M519.1 1692.2h0M519.1 1687.2h0M519.1 1682.2h0M519.1 1677.3h0M519.1 1672.3h0M519.1 1667.3h0M520.9 1697.2h0M520.9 1692.2h0M520.9 1687.2h0M520.9 1682.2h0M520.9 1677.3h0M520.9 1672.3h0M522.6 1697.2h0M522.6 1692.2h0M522.6 1687.2h0M522.6 1682.2h0M522.6 1677.3h0M524.4 1697.2h0M524.4 1692.2h0M524.4 1687.2h0M524.4 1682.2h0M526.1 1697.2h0M526.1 1692.2h0M526.1 1687.2h0M526.1 1682.2h0M527.9 1697.2h0M527.9 1692.2h0M527.9 1687.2h0M529.6 1697.2h0M529.6 1692.2h0M531.4 1697.2h0M531.4 1692.2h0M533.1 1697.2h0M534.9 1697.2h0M536.6 1697.2h0M538.3 1697.2h0M540.1 1697.2h0M541.8 1697.2h0M541.8 1692.2h0M543.6 1697.2h0M543.6 1692.2h0M545.3 1697.2h0M545.3 1692.2h0M545.3 1687.2h0M547.1 1697.2h0M547.1 1692.2h0M547.1 1687.2h0M547.1 1682.2h0M548.8 1697.2h0M548.8 1692.2h0M548.8 1687.2h0M548.8 1682.2h0M550.6 1697.2h0M550.6 1692.2h0M550.6 1687.2h0M550.6 1682.2h0M550.6 1677.3h0M552.3 1697.2h0M552.3 1692.2h0M552.3 1687.2h0M552.3 1682.2h0M552.3 1677.3h0M552.3 1672.3h0M554.1 1697.2h0M554.1 1692.2h0M554.1 1687.2h0M554.1 1682.2h0M554.1 1677.3h0M554.1 1672.3h0M554.1 1667.3h0M555.8 1697.2h0M555.8 1692.2h0M555.8 1687.2h0M555.8 1682.2h0M555.8 1677.3h0M555.8 1672.3h0M555.8 1667.3h0M555.8 1662.3h0M557.5 1697.2h0M557.5 1692.2h0M557.5 1687.2h0M557.5 1682.2h0M557.5 1677.3h0M557.5 1672.3h0M557.5 1667.3h0M557.5 1662.3h0M557.5 1657.3h0M559.3 1697.2h0M559.3 1692.2h0M559.3 1687.2h0M559.3 1682.2h0M559.3 1677.3h0M559.3 1672.3h0M559.3 1667.3h0M559.3 1662.3h0M559.3 1657.3h0M559.3 1652.3h0M456.3 1693.5h0M458.5 1694.6h0M460.7 1696h0M462.8 1696.7h0M465 1696.2h0M467.1 1694.7h0M469.3 1694.4h0M471.5 1696.8h0M473.6 1696.9h0M475.8 1695.1h0M478 1694.9h0M480.1 1695.7h0M482.3 1696.3h0M484.5 1694.8h0M486.6 1697.2h0M488.8 1696h0M491 1695.4h0M493.1 1693.4h0M495.3 1694.6h0M497.4 1693.7h0M499.6 1695.3h0M501.8 1696.3h0M503.9 1696.2h0M506.1 1693.4h0M508.3 1694.4h0M510.4 1696h0M512.6 1697.1h0M514.8 1695.2h0M516.9 1694.5h0M519.1 1695.5h0M521.2 1696.2h0M523.4 1694.5h0M525.6 1693.5h0M527.7 1696.3h0M529.9 1697.1h0M532.1 1695.9h0M534.2 1695.5h0M536.4 1694.5h0M538.6 1696.4h0M540.7 1694h0M542.9 1694.3h0M545 1695.2h0M547.2 1696.4h0M549.4 1693.3h0M551.5 1696h0M553.7 1693.9h0M555.9 1696.3h0M558 1696.3h0M560.2 1694.2h0M562.4 1696h0M564.5 1693.4h0M566.7 1695.2h0M568.8 1696.5h0M571 1696.3h0M573.2 1695.5h0M575.3 1694.5h0M577.5 1693.4h0M579.7 1696.6h0M581.8 1695.6h0M584 1696.4h0M586.2 1693.3h0M588.3 1696.6h0M590.5 1697h0M592.6 1697h0M594.8 1695.6h0M597 1693.6h0M599.1 1693.7h0M601.3 1694.3h0M603.5 1693.2h0M605.6 1693.5h0M607.8 1695.9h0M610 1696.5h0M612.1 1693.5h0M614.3 1694.2h0M616.5 1697.1h0M618.6 1694.5h0M620.8 1695.7h0M622.9 1695.7h0M625.1 1695.9h0M627.3 1696.5h0M629.4 1697.2h0M631.6 1696.1h0M633.8 1695.8h0M635.9 1693.4h0M638.1 1696.7h0M640.3 1693.4h0M642.4 1696.4h0M644.6 1695.8h0M646.7 1693.9h0M648.9 1693.9h0M644.5 1694.4h0M652 1693.8h0M655 1694.5h0M660 1694.3h0M663 1695.2h0M611.5 1694h0M619 1694.3h0M627.5 1695.1h0M636 1693.7h0M642.5 1694.4h0M603 1695h0M665.5 1694.9h0" fill="none" stroke="#76869a" stroke-width="7.6" stroke-linecap="round"/>
<path d="M484 1589.3h0M502.5 1611h0M501 1620.7h0M511.6 1619.2h0M471.1 1631h0M492.3 1637.4h0M497.3 1634.5h0M500.8 1634.5h0M513.4 1636.8h0M515.4 1648.6h0M503.1 1650.9h0M494.3 1654.4h0M464.7 1655.6h0M479.1 1658h0M514 1658h0M381.6 1662.7h0M436.5 1670.6h0M429.2 1675.6h0M441.5 1681.4h0M437.1 1685.5h0M467.3 1674.1h0M399.2 1686.7h0M416.6 1687.6h0M451.8 1692.6h0M459.1 1683.8h0M456.2 1686.7h0M473.8 1683.2h0M446.5 1692h0M463 1690.5h0M470 1688h0M391 1164h0M369 1190h0M469.9 1406.9h0M481 1530h0M483.5 1589h0M172.6 1620.4h0M264 1614.3h0M512.4 1692.6h0M515.2 1660.5h0M515.1 1662h0M491.9 1690.6h0M511 1679.3h0M479.7 1692h0M513.5 1689.4h0M503.7 1692.9h0M515 1676.4h0M483.5 1682.9h0M505.6 1685.9h0M514.6 1659h0M502.3 1690.9h0M512 1685.5h0M482.6 1692.4h0M514.8 1667.9h0M514.2 1670.1h0M489 1687.2h0M510.1 1687.8h0M504.8 1676.2h0M507.6 1675.7h0M511.6 1690.2h0M512.6 1681.1h0M514.7 1688h0M486 1680.8h0M512.4 1689.8h0M510.5 1683.8h0M512.9 1674.2h0M506.1 1687.3h0M512.7 1678.3h0M505 1673.5h0M494.6 1684.5h0M495.8 1690.8h0M496.8 1686h0M499.4 1691.7h0M499 1691.2h0M515.9 1662h0M507.7 1682.1h0M509.4 1662.7h0M503.1 1685.7h0M513.1 1676.7h0M489.7 1678.7h0M502.9 1676.1h0M506.2 1673h0M512.6 1689.1h0M514 1692.1h0M501.6 1684.2h0M479.6 1684.7h0M495.8 1688.5h0M495 1691.3h0M510 1692.3h0M481.3 1688.9h0M508.7 1687.9h0M509.2 1692h0M513 1679.1h0M505.4 1680.6h0M515.5 1687.8h0M514.1 1674.9h0M511.2 1691h0M504.5 1675.9h0M511.1 1692.4h0M514.6 1686h0M496.3 1692.6h0M509.7 1691.7h0M511.1 1689.5h0M502 1690.1h0M504 1683.8h0M512.5 1687.5h0M490.8 1677.9h0M501.5 1689.2h0M508.5 1691.2h0M493.8 1692.9h0M503.6 1675.5h0M507.3 1687.3h0M504.1 1691.9h0M505.2 1692.9h0M496.3 1677h0M509.5 1692.5h0M506 1685h0M506.4 1692h0M512.5 1663.2h0M498.8 1692.5h0M489.7 1679.3h0M514.6 1690.9h0M491.6 1678h0M491.1 1688.8h0M484.6 1690.8h0M505.2 1671h0M496.3 1692.2h0M497.4 1680.2h0M513.6 1666.6h0M501.5 1676.6h0M512 1686.4h0M506.8 1684.4h0M510.6 1690.3h0M511.2 1674.6h0M512.8 1680.6h0M513.6 1671.3h0M489 1692.6h0M509.5 1680.6h0M496.6 1690.6h0M509.8 1686.4h0M502.8 1681.6h0M508.5 1685.9h0M513.2 1678.1h0M515 1682.6h0M513.9 1669.9h0M491.4 1689.1h0M509.1 1692.3h0M501.2 1692.3h0M510.4 1685.6h0M513.5 1682.4h0M496 1692.7h0M510.9 1674.4h0M513.2 1692.7h0M498.9 1686.8h0M490.3 1692.5h0M491.2 1681.3h0M492.4 1681.7h0M515.6 1690.9h0M499.2 1673.5h0M514.2 1661.9h0M503 1671.6h0M493.9 1692.8h0M501.6 1692h0M496.3 1677.4h0M512 1691.9h0M489.6 1688.7h0M507.4 1690.3h0M511.4 1683.3h0M514.5 1691.2h0M512.5 1691.6h0M495.8 1677.8h0M507.6 1691.7h0M514.6 1681.1h0M509.1 1679.5h0M497.2 1686.1h0M493.2 1686.6h0M511.1 1660.8h0M511.5 1678.5h0M495.6 1691.2h0M500 1671.6h0M503.9 1677.4h0M509.7 1685.8h0M505.4 1692.8h0M494.5 1680.6h0M515.7 1655.7h0M495.3 1686h0M509.6 1692.9h0M505.3 1692.8h0M514.3 1691.9h0M514.3 1686.2h0M514.3 1680.6h0M514.3 1674.9h0M511.1 1691.9h0M511.1 1686.2h0M511.1 1680.6h0M511.1 1674.9h0M508 1691.9h0M508 1686.2h0M508 1680.6h0M504.8 1691.9h0M504.8 1686.2h0M504.8 1680.6h0M501.7 1691.9h0M501.7 1686.2h0M501.7 1680.6h0M498.6 1691.9h0M498.6 1686.2h0M495.4 1691.9h0M495.4 1686.2h0M492.3 1691.9h0M492.3 1686.2h0M489.1 1691.9h0M486 1691.9h0" fill="none" stroke="#2f3170" stroke-width="7.6" stroke-linecap="round"/>
<path d="M605.8 1542.3h0M597 1562.6h0M592.6 1585.5h0M633.1 1588.4h0M668.9 1594.3h0M595.5 1610.4h0M585.9 1632.4h0M608.2 1633.9h0M577.9 1639.2h0M590.6 1639.2h0M635.7 1640.6h0M660.1 1641.5h0M600 1645h0M604.4 1648.6h0M632.8 1650h0M598.5 1652.1h0M653.6 1652.1h0M739.3 1639.8h0M731.1 1646.2h0M694.7 1661.8h0M719.7 1664.1h0M709.1 1670.3h0M785.4 1665h0M769.3 1670.9h0M791.6 1683.2h0M745.8 1679.4h0M750.2 1681.4h0M740.8 1683.8h0M717.3 1686.1h0M707.6 1692.6h0M681.5 1669.1h0M683.6 1675h0M668.9 1677h0M679.2 1680.8h0M685.9 1684.4h0M690.3 1687.6h0M646.9 1677.9h0M656.3 1682.9h0M612.3 1660.9h0M624.9 1659.7h0M623.4 1668.5h0M630.8 1673.5h0M604.4 1664.7h0M605.8 1673.5h0M589.7 1666.2h0M592 1670.6h0M647.5 1335.8h0M774.7 1485.1h0M605.6 1541.2h0M598.4 1690.3h0M613.5 1690.2h0M578.4 1691.9h0M573.4 1681.9h0M560.6 1689.1h0M557.5 1692.6h0M579.5 1685.4h0M585.2 1686.1h0M577.1 1687.8h0M624.9 1692.8h0M591.9 1692.6h0M571.7 1692.7h0M623.2 1687.3h0M635.2 1691.9h0M557.7 1677.9h0M564.7 1683.3h0M600 1690.2h0M615.9 1683.1h0M561 1663.6h0M595.1 1692.9h0M607.7 1692.3h0M567.2 1692.8h0M558.5 1682.5h0M564.9 1663.4h0M578.2 1684.4h0M583.3 1687.8h0M615.4 1692.6h0M629 1692.2h0M562 1665.2h0M572.2 1676.1h0M558.2 1666.1h0M562.6 1674.4h0M638.3 1691.7h0M575 1691.9h0M586.1 1692.9h0M579.6 1690.7h0M557.2 1665.4h0M635 1689.3h0M563.5 1687.3h0M621 1686.9h0M596.3 1686.4h0M562.8 1660.3h0M578.5 1692.9h0M659 1692.6h0M564.3 1662.8h0M640.2 1689.4h0M605.4 1691.7h0M649.3 1692.6h0M616.7 1687.9h0M596.2 1685.9h0M613.5 1684.8h0M564.5 1677.5h0M590.9 1683.4h0M599.4 1688.2h0M569.4 1682.1h0M589.7 1692.8h0M581 1692.9h0M572.1 1692.7h0M599 1692.7h0M577.1 1692.9h0M632.1 1690h0M577.1 1681.2h0M558.6 1680.8h0M575.6 1690h0M595.6 1679.4h0M642.4 1692.9h0M632.7 1686h0M639.9 1692.8h0M563.8 1692.9h0M580.7 1676.2h0M584.3 1678.3h0M623.4 1689.4h0M562.4 1692.7h0M579.6 1679.6h0M569.4 1688.3h0M599.6 1692.9h0M558.8 1674.5h0M598.2 1691.1h0M613.2 1690.2h0M674.8 1690.7h0M566.4 1688.2h0M565.6 1687.5h0M563.7 1676.9h0M603.2 1689.1h0M578 1692.7h0M655.6 1689.8h0M558.3 1691.7h0M559.3 1672h0M561.7 1685.3h0M557.7 1684.6h0M566.4 1685.9h0M588 1690.9h0M576.4 1669.7h0M591.3 1691.7h0M574.3 1686.9h0M633.6 1692.8h0M570.6 1675.2h0M572.7 1680h0M573.4 1690h0M626.3 1691.7h0M640.9 1692.8h0M622.5 1685.3h0M591 1691.9h0M562.4 1664.6h0M606.4 1682.4h0M557.4 1691.3h0M617.5 1687h0M572.2 1677.4h0M585.4 1691h0M594.3 1692.6h0M598.2 1684.3h0M619.2 1692.7h0M637.9 1690.8h0M589.7 1692.7h0M659.3 1692.7h0M581.9 1692.3h0M582.1 1676.9h0M631.8 1692.7h0M578.3 1690.7h0M588.7 1688h0M581 1692.3h0M595.3 1676.3h0M560.1 1658.6h0M580.3 1692.7h0M665.6 1690.5h0M653.7 1690.4h0M587.7 1685.2h0M570.3 1692.7h0M570.6 1692.9h0M605.3 1691h0M576.8 1687.2h0M632.3 1690h0M584.3 1685.6h0M563.4 1688.1h0M563.3 1687.4h0M667.4 1691.8h0M557.3 1691.3h0M609.9 1686.6h0M620.7 1688.2h0M616.7 1685.1h0M588 1689.3h0M622.5 1692.1h0M572.9 1688.7h0M573.6 1676.6h0M573.4 1691.5h0M626.4 1691.5h0M624.8 1691.6h0M576.6 1681.8h0M586.2 1684.5h0M570.7 1675.8h0M601.9 1678.5h0M594.8 1692.9h0M585.9 1680.4h0M565.1 1663.6h0M580.2 1685.7h0M559.8 1683.2h0M569.4 1681.5h0M616.4 1685.5h0M608.5 1681.2h0M564.1 1691.8h0M577.3 1678.7h0M603.3 1692.7h0M604.2 1692.9h0M561.6 1690.8h0M563.7 1687.8h0M561.9 1687.5h0M572.1 1691.3h0M601.7 1692.3h0M563.4 1684.4h0M676.9 1692.8h0M573.1 1691.9h0M604.9 1692.7h0M572.4 1682.3h0M647.9 1691.8h0M590.5 1675h0M570.8 1689.9h0M617.2 1685.9h0M628.6 1691.3h0M574.6 1692.6h0M618.4 1685.7h0M617.4 1692.3h0M635.1 1692h0M558.2 1691.9h0M610.3 1692.9h0M564.3 1691.3h0M597.5 1691.7h0M610.1 1688.1h0M563.9 1679.1h0M632.5 1687.3h0M645.5 1692.9h0M608.7 1685.2h0M654.1 1692.8h0M592.1 1692.9h0M619.5 1692.9h0M627.6 1692.5h0M579.1 1692.7h0M580.1 1679h0M585.9 1690.8h0M619.9 1686.7h0M646.7 1692.8h0M610.7 1685.6h0M600.8 1686.5h0M627.1 1686.9h0M612.1 1692.5h0M578.9 1680h0M615.3 1691h0M604.7 1692.1h0M600.3 1692.2h0M594.8 1692.8h0M602.3 1690.1h0M593.3 1688.9h0M603.4 1689.1h0M560.8 1667.8h0M561.4 1686.1h0M626.2 1686.7h0M585.7 1690.4h0M669.3 1692.9h0M619.9 1689h0M565 1681.6h0M566.2 1678.7h0M598.2 1677.1h0M575.9 1686.8h0M664.5 1692.9h0M567.4 1677.5h0M589.5 1678.6h0M589.6 1690.7h0M618 1686.8h0M566.9 1691.8h0M605.7 1689.1h0M578 1676.2h0M582.3 1689.7h0M648.5 1691.6h0M565.2 1661.2h0M616.6 1688.5h0M568.8 1690.4h0M600.8 1691.8h0M618.5 1686.6h0M594.1 1692.9h0M575 1685.7h0M660.8 1692.9h0M558.8 1691.9h0M562.4 1663.2h0M614.5 1686h0M603.8 1681h0M610.5 1688.4h0M602.3 1686.1h0M619.9 1692.5h0M600.5 1686.5h0M639.9 1692.8h0M579.5 1692.3h0M642 1687.6h0M577.1 1682.6h0M621 1686.9h0M626.1 1690.3h0M559.2 1687.2h0M599.9 1691.6h0M622.8 1684.5h0M587.6 1692.8h0M570.1 1692.6h0M562.9 1670.8h0M657.9 1692.1h0M608.7 1692.9h0M608.4 1681.4h0M601.1 1678.1h0M608.6 1692.8h0M565 1680.1h0M563.8 1692.9h0M585.2 1692.9h0M567.4 1663.3h0M580.6 1692.8h0M575.2 1692.9h0M576.5 1680.2h0M561 1692h0M639.2 1692.9h0M569 1671h0M636.1 1689.2h0M618.5 1687.9h0M593 1689.5h0M592.3 1675.6h0M573 1679.3h0M565.7 1680h0M557.6 1667.6h0M595.3 1684.1h0M578 1692.4h0M594.5 1692.8h0M601.8 1691.2h0M605.5 1686.9h0M581.7 1692.5h0M571.1 1681.7h0M603 1687.5h0M600.5 1683.6h0M581.6 1672.1h0M571.1 1690.9h0M620.9 1692.9h0M634.8 1687.9h0M569.9 1690.2h0M666.7 1690.4h0M643 1690.8h0M576.3 1672.6h0M607 1691.3h0M584.4 1675.5h0M620 1686.4h0M557.6 1690.8h0M559.9 1687.2h0M636.7 1687.3h0M605.2 1692.9h0M603.2 1682.1h0M637.1 1690.8h0M571.8 1674.7h0M654.7 1690.8h0M597 1692.8h0M581.1 1686.4h0M566.9 1675.8h0M589.4 1675.8h0M563.9 1678.3h0M625.8 1691.2h0M567.5 1675.9h0M594.4 1682.2h0M578 1677h0M562.4 1672.8h0M564.2 1666h0M623.3 1685.5h0M614.1 1689.2h0M564.9 1692h0M568.3 1678.6h0M586.9 1690.6h0M604.2 1689.5h0M577.2 1692.5h0M604.9 1691.2h0M559.6 1691.9h0M559.6 1686.2h0M559.6 1680.6h0M559.6 1674.9h0M559.6 1669.3h0M559.6 1663.6h0M563.1 1691.9h0M563.1 1686.2h0M563.1 1680.6h0M563.1 1674.9h0M563.1 1669.3h0M566.6 1691.9h0M566.6 1686.2h0M566.6 1680.6h0M566.6 1674.9h0M570.1 1691.9h0M570.1 1686.2h0M570.1 1680.6h0M570.1 1674.9h0M573.6 1691.9h0M573.6 1686.2h0M573.6 1680.6h0M577.1 1691.9h0M577.1 1686.2h0M577.1 1680.6h0M580.6 1691.9h0M580.6 1686.2h0" fill="none" stroke="#d92b4b" stroke-width="7.6" stroke-linecap="round"/>
</g>
<path d="M516.1 1170.3V1720.4M556.9 1170.3V1720.4" fill="none" stroke="#000" stroke-width="4.3" stroke-dasharray="2.1 5.76"/>
<path d="M142.5 1693.1H821.7" fill="none" stroke="#000" stroke-width="4" stroke-dasharray="2 5.86"/>
<rect x="140.9" y="1164.8" width="682.8" height="557.6" fill="none" stroke="#23252e" stroke-width="4"/>
<text font-size="40" text-anchor="end" transform="translate(124 1212.5) scale(0.955 1)">150</text>
<text font-size="40" text-anchor="end" transform="translate(124 1378.7) scale(0.955 1)">100</text>
<text font-size="40" text-anchor="end" transform="translate(124 1544.9) scale(0.955 1)">50</text>
<text font-size="40" text-anchor="end" transform="translate(124 1711.1) scale(0.955 1)">0</text>
<text x="184.7" y="1770" font-size="38" text-anchor="middle">-10</text>
<text x="359.2" y="1770" font-size="38" text-anchor="middle">-5</text>
<text x="536.6" y="1770" font-size="38" text-anchor="middle">0</text>
<text x="711" y="1770" font-size="38" text-anchor="middle">5</text>
<path d="M131 1198.6H140.9M131 1364.8H140.9M131 1531H140.9M131 1697.2H140.9M187.7 1722.4V1734.6M362.2 1722.4V1734.6M536.6 1722.4V1734.6M711 1722.4V1734.6" fill="none" stroke="#23252e" stroke-width="3.4"/>
<text x="480.8" y="1809.7" font-size="39.5" text-anchor="middle">log2 (<tspan font-style="italic">Fold change</tspan>)</text>
<text font-size="40.5" text-anchor="middle" transform="translate(53.8 1440.9) rotate(-90) scale(0.960 1)">- log10 (<tspan font-style="italic">P value</tspan>)</text>
<circle cx="173.1" cy="1210.1" r="7" fill="#d92b4b"/>
<text x="190.5" y="1220.2" font-size="35">Up:380</text>
<circle cx="173.1" cy="1248.8" r="7" fill="#2f3170"/>
<text x="190.5" y="1261.5" font-size="35">Down:300</text>
<circle cx="173.1" cy="1289.3" r="7" fill="#76869a"/>
<text x="190.5" y="1302.7" font-size="35">NS</text>
<text x="841.8" y="1089.9" font-size="74">g</text>
<text x="1434" y="1126" font-size="59" text-anchor="middle">Selected KEGG enrichment</text>
<rect x="1519.3" y="1163.9" width="241.9" height="54.4" fill="#e03524" stroke="none"/>
<text font-size="38.7" text-anchor="end" transform="translate(1491.2 1201) scale(1.000 1)">Antigen processing and presentation</text>
<rect x="1519.3" y="1225.9" width="282.4" height="54.4" fill="#e03524" stroke="none"/>
<text font-size="38.7" text-anchor="end" transform="translate(1491.2 1266.5) scale(0.985 1)">Cell adhesion molecules</text>
<rect x="1519.3" y="1287.9" width="343" height="54.4" fill="#e03524" stroke="none"/>
<text font-size="38.7" text-anchor="end" transform="translate(1491.2 1325.8) scale(0.983 1)">Cytokine-cytokine receptor interaction</text>
<rect x="1519.3" y="1350.1" width="403.6" height="54.4" fill="#e03524" stroke="none"/>
<text font-size="38.7" text-anchor="end" transform="translate(1491.2 1388.2) scale(0.956 1)">Neuroactive ligand-receptor interaction</text>
<rect x="1519.3" y="1412.3" width="140.9" height="54.4" fill="#e02e2f" stroke="none"/>
<text font-size="38.7" text-anchor="end" fill="#dc2a4c" transform="translate(1491.2 1449.8) scale(0.996 1)">IL-17 signaling pathway</text>
<rect x="1519.3" y="1474.3" width="241.9" height="54.4" fill="#e12d31" stroke="none"/>
<text font-size="38.7" text-anchor="end" transform="translate(1491.2 1512.8) scale(1.000 1)">cAMP signaling pathway</text>
<rect x="1519.3" y="1536.3" width="120.7" height="54.4" fill="#e32850" stroke="none"/>
<text font-size="38.7" text-anchor="end" transform="translate(1491.2 1577.5) scale(1.000 1)">Arachidonic acid metabolish</text>
<rect x="1519.3" y="1598.7" width="221.7" height="54.4" fill="#e42654" stroke="none"/>
<text font-size="38.7" text-anchor="end" transform="translate(1491.2 1636) scale(1.000 1)">NOD-like receptor signaling pathway</text>
<rect x="1519.3" y="1660.7" width="80.3" height="54.4" fill="#d42a84" stroke="none"/>
<text font-size="38.7" text-anchor="end" transform="translate(1491.2 1698.2) scale(1.000 1)">Ether lipid metabolism</text>
<rect x="1519.3" y="1722.8" width="181.3" height="54.4" fill="#3d59aa" stroke="none"/>
<text font-size="38.7" text-anchor="end" transform="translate(1491.2 1760.2) scale(1.000 1)">Neutrophil extracellular trap formation</text>
<rect x="1504.9" y="1151.6" width="432.3" height="639.8" fill="none" stroke="#1c1a18" stroke-width="3.9"/>
<text font-size="34.5" text-anchor="middle" transform="translate(1525 1834.8) scale(1.100 1)">0</text>
<text font-size="34.5" text-anchor="middle" transform="translate(1625.9 1834.8) scale(1.100 1)">5</text>
<text font-size="34.5" text-anchor="middle" transform="translate(1726.8 1834.8) scale(1.100 1)">10</text>
<text font-size="34.5" text-anchor="middle" transform="translate(1827.7 1834.8) scale(1.100 1)">15</text>
<text font-size="34.5" text-anchor="middle" transform="translate(1929 1834.8) scale(1.100 1)">20</text>
<path d="M1525 1791.4V1802M1625.9 1791.4V1802M1726.8 1791.4V1802M1827.7 1791.4V1802M1929 1791.4V1802" fill="none" stroke="#1c1a18" stroke-width="3.4"/>
<text font-size="38.7" text-anchor="middle" transform="translate(1720.5 1873) scale(1.100 1)">Count</text>
<text font-size="36.5" transform="translate(1786 1643.6) scale(1.060 1)" font-style="italic">P value</text>
<defs><linearGradient id="pg" x1="0" y1="0" x2="0" y2="1"><stop offset="0" stop-color="#e03a22"/><stop offset="0.18" stop-color="#e32b3e"/><stop offset="0.36" stop-color="#de2870"/><stop offset="0.55" stop-color="#b932b8"/><stop offset="0.72" stop-color="#8a2fc4"/><stop offset="0.88" stop-color="#5547b3"/><stop offset="1" stop-color="#3d5cae"/></linearGradient></defs>
<rect x="1831.8" y="1655.2" width="17.7" height="107.8" fill="url(#pg)" stroke="none"/>
<text font-size="25" transform="translate(1854.5 1689) scale(1.090 1)">0.02</text>
<text font-size="25" transform="translate(1854.5 1715) scale(1.090 1)">0.04</text>
<text font-size="25" transform="translate(1854.5 1739.9) scale(1.090 1)">0.06</text>
<text font-size="25" transform="translate(1854.5 1764.2) scale(1.090 1)">0.08</text>
<path d="M1831.8 1680h3.6M1849.5 1680h-3.6M1831.8 1705.8h3.6M1849.5 1705.8h-3.6M1831.8 1730.6h3.6M1849.5 1730.6h-3.6M1831.8 1755.5h3.6M1849.5 1755.5h-3.6" fill="none" stroke="#fff" stroke-width="3.4"/>
<text x="-3.1" y="1941" font-size="73">h</text>
<rect x="203.5" y="2328" width="60.5" height="113.9" fill="#7d797c" stroke="none"/>
<rect x="325" y="2137" width="60.2" height="304.9" fill="#4656b0" stroke="none"/>
<text font-size="42" text-anchor="end" transform="translate(127.5 1998.5) scale(0.920 1)">4</text>
<text font-size="42" text-anchor="end" transform="translate(127.5 2112.7) scale(0.920 1)">3</text>
<text font-size="42" text-anchor="end" transform="translate(127.5 2226.9) scale(0.920 1)">2</text>
<text font-size="42" text-anchor="end" transform="translate(127.5 2341.1) scale(0.920 1)">1</text>
<text font-size="42" text-anchor="end" transform="translate(127.5 2455.4) scale(0.920 1)">0</text>
<path d="M153.3 1983.4V2443.5M141.9 2441.9H437.2M141.9 1985H153.3M141.9 2099.2H153.3M141.9 2213.4H153.3M141.9 2327.6H153.3M141.9 2441.9H153.3M233.4 2441.9V2451.6M354.9 2441.9V2451.6" fill="none" stroke="#000" stroke-width="3.2"/>
<text x="233.9" y="2497.3" font-size="39.5" text-anchor="middle">WT</text>
<text x="363.4" y="2497.3" font-size="39.5" text-anchor="middle"><tspan font-style="italic">Fmr1</tspan>-KO</text>
<text font-size="40" text-anchor="middle" transform="translate(93.5 2218.5) rotate(-90) scale(0.990 1)">Relative <tspan font-style="italic">IL-17A</tspan> mRNA level</text>
<line x1="234.2" y1="2012" x2="354.9" y2="2012" stroke-width="3.2" stroke="#000"/>
<text x="297.5" y="2021" font-size="78" font-weight="bold" text-anchor="middle" letter-spacing="6">***</text>
<g fill="#fff" stroke="#000">
<circle cx="226.5" cy="2296.7" r="6.7" stroke-width="2.9"/>
<circle cx="240.7" cy="2300.1" r="6.7" stroke-width="2.9"/>
<circle cx="226.5" cy="2318.6" r="6.7" stroke-width="2.9"/>
<circle cx="226.5" cy="2363.2" r="6.7" stroke-width="2.9"/>
<circle cx="240.7" cy="2361.2" r="6.7" stroke-width="2.9"/>
<circle cx="355.4" cy="2033.3" r="6.7" stroke-width="2.9"/>
<circle cx="355.4" cy="2097.7" r="6.7" stroke-width="2.9"/>
<circle cx="355.4" cy="2144.6" r="6.7" stroke-width="2.9"/>
<circle cx="348.6" cy="2204.5" r="6.7" stroke-width="2.9"/>
<circle cx="362.8" cy="2204.5" r="6.7" stroke-width="2.9"/>
</g>
<path d="M218.2 2313.5H248.6M218.2 2342.2H248.6M233.4 2313.5V2342.2" stroke="#000" stroke-width="2.9" fill="none"/>
<path d="M339.7 2104.3H370.1M339.7 2169.6H370.1M354.9 2104.3V2169.6" stroke="#000" stroke-width="2.9" fill="none"/>
<text x="471.9" y="1934.2" font-size="73">i</text>
<rect x="675.7" y="2341.9" width="60.2" height="100.7" fill="#7d797c" stroke="none"/>
<rect x="800" y="2226.3" width="60.3" height="216.3" fill="#4656b0" stroke="none"/>
<text font-size="42" text-anchor="end" transform="translate(608.7 2000.8) scale(0.920 1)">15</text>
<text font-size="42" text-anchor="end" transform="translate(608.7 2152.5) scale(0.920 1)">10</text>
<text font-size="42" text-anchor="end" transform="translate(608.7 2304.3) scale(0.920 1)">5</text>
<text font-size="42" text-anchor="end" transform="translate(608.7 2456.1) scale(0.920 1)">0</text>
<path d="M626.8 1985.7V2444.2M615.6 2442.6H911.4M615.4 1987.3H626.8M615.4 2139H626.8M615.4 2290.8H626.8M615.4 2442.6H626.8M705.8 2442.6V2452.3M829.9 2442.6V2452.3" fill="none" stroke="#000" stroke-width="3.2"/>
<text x="706.3" y="2497.3" font-size="39.5" text-anchor="middle">WT</text>
<text x="838.9" y="2497.3" font-size="39.5" text-anchor="middle"><tspan font-style="italic">Fmr1</tspan>-KO</text>
<text font-size="40" text-anchor="middle" transform="translate(552.5 2215.5) rotate(-90) scale(0.970 1)">IL-17A (pg/g)</text>
<line x1="706.1" y1="2012.3" x2="829.9" y2="2012.3" stroke-width="3.2" stroke="#000"/>
<text x="771" y="2019.5" font-size="78" font-weight="bold" text-anchor="middle" letter-spacing="6">*</text>
<g fill="#fff" stroke="#000">
<circle cx="684.3" cy="2328.5" r="6.7" stroke-width="2.9"/>
<circle cx="729.1" cy="2328.5" r="6.7" stroke-width="2.9"/>
<circle cx="698.5" cy="2343.3" r="6.7" stroke-width="2.9"/>
<circle cx="714.1" cy="2343.3" r="6.7" stroke-width="2.9"/>
<circle cx="706.1" cy="2368.3" r="6.7" stroke-width="2.9"/>
<circle cx="830.5" cy="2065.9" r="6.7" stroke-width="2.9"/>
<circle cx="823.4" cy="2156.8" r="6.7" stroke-width="2.9"/>
<circle cx="837.6" cy="2156.8" r="6.7" stroke-width="2.9"/>
<circle cx="807.8" cy="2261.2" r="6.7" stroke-width="2.9"/>
<circle cx="853.2" cy="2261.2" r="6.7" stroke-width="2.9"/>
<circle cx="823.4" cy="2275.4" r="6.7" stroke-width="2.9"/>
<circle cx="837.6" cy="2275.4" r="6.7" stroke-width="2.9"/>
<circle cx="830.5" cy="2354.1" r="6.7" stroke-width="2.9"/>
</g>
<path d="M690.6 2334.2H721M690.6 2349H721M705.8 2334.2V2349" stroke="#000" stroke-width="2.9" fill="none"/>
<path d="M814.7 2193.1H845.1M814.7 2259H845.1M829.9 2193.1V2259" stroke="#000" stroke-width="2.9" fill="none"/>
<text x="934.3" y="1926.8" font-size="73">j</text>
<rect x="1142.9" y="2217.3" width="60.2" height="224.4" fill="#676567" stroke="none"/>
<rect x="1279.2" y="2140" width="60.2" height="301.7" fill="#4656b0" stroke="none"/>
<text font-size="42" text-anchor="end" transform="translate(1073.5 2006.5) scale(0.920 1)">2.0</text>
<text font-size="42" text-anchor="end" transform="translate(1073.5 2118.7) scale(0.920 1)">1.5</text>
<text font-size="42" text-anchor="end" transform="translate(1073.5 2230.9) scale(0.920 1)">1.0</text>
<text font-size="42" text-anchor="end" transform="translate(1073.5 2343) scale(0.920 1)">0.5</text>
<text font-size="42" text-anchor="end" transform="translate(1073.5 2455.2) scale(0.920 1)">0.0</text>
<path d="M1095.5 1991.4V2443.3M1084.7 2441.7H1385.6M1084.1 1993H1095.5M1084.1 2105.2H1095.5M1084.1 2217.4H1095.5M1084.1 2329.5H1095.5M1084.1 2441.7H1095.5M1172.2 2441.7V2451.4M1309 2441.7V2451.4" fill="none" stroke="#000" stroke-width="3.2"/>
<text x="1176.7" y="2497.3" font-size="39.5" text-anchor="middle">WT</text>
<text x="1319" y="2497.3" font-size="39.5" text-anchor="middle"><tspan font-style="italic">Fmr1</tspan>-KO</text>
<text font-size="40" text-anchor="middle" transform="translate(1006.5 2218.5) rotate(-90) scale(0.970 1)">Relative <tspan font-style="italic">IL-17RA</tspan> mRNA level</text>
<line x1="1173.3" y1="2012.3" x2="1309" y2="2012.3" stroke-width="3.2" stroke="#000"/>
<text x="1244.2" y="2019.5" font-size="78" font-weight="bold" text-anchor="middle" letter-spacing="6">*</text>
<g fill="#fff" stroke="#000">
<circle cx="1173.6" cy="2177.5" r="6.7" stroke-width="2.9"/>
<circle cx="1157.1" cy="2194.5" r="6.7" stroke-width="2.9"/>
<circle cx="1188.9" cy="2194.5" r="6.7" stroke-width="2.9"/>
<circle cx="1165" cy="2223.5" r="6.7" stroke-width="2.9"/>
<circle cx="1180.4" cy="2223.5" r="6.7" stroke-width="2.9"/>
<circle cx="1165" cy="2259" r="6.7" stroke-width="2.9"/>
<circle cx="1180.4" cy="2254.7" r="6.7" stroke-width="2.9"/>
<circle cx="1309.6" cy="2029.6" r="6.7" stroke-width="2.9"/>
<circle cx="1301.9" cy="2107.1" r="6.7" stroke-width="2.9"/>
<circle cx="1317.5" cy="2120.7" r="6.7" stroke-width="2.9"/>
<circle cx="1301.9" cy="2137.8" r="6.7" stroke-width="2.9"/>
<circle cx="1309.6" cy="2207.9" r="6.7" stroke-width="2.9"/>
<circle cx="1309.6" cy="2235.7" r="6.7" stroke-width="2.9"/>
</g>
<path d="M1157.9 2205H1187.5M1157.9 2229.7H1187.5M1172.7 2205V2229.7" stroke="#000" stroke-width="2.9" fill="none"/>
<path d="M1294.8 2108.8H1324.4M1294.8 2169.6H1324.4M1309.6 2108.8V2169.6" stroke="#000" stroke-width="2.9" fill="none"/>
<text x="1367" y="1941.6" font-size="73">k</text>
<text x="1620.7" y="1937.2" font-size="35.3" text-anchor="middle">WT</text>
<text x="1770" y="1937.2" font-size="35.3" text-anchor="middle"><tspan font-style="italic">Fmr1</tspan>-KO</text>
<line x1="1557.7" y1="1945.9" x2="1688.8" y2="1945.9" stroke-width="3.6" stroke="#000"/>
<line x1="1699.9" y1="1945.9" x2="1832.4" y2="1945.9" stroke-width="3.6" stroke="#000"/>
<text x="1533.8" y="1989.3" font-size="32" text-anchor="end">IL-17RA</text>
<text x="1534.8" y="2041.3" font-size="32" text-anchor="end">ACTIN</text>
<text x="1853.5" y="1984" font-size="30.6">120 kD</text>
<text x="1854.5" y="2045.8" font-size="30.3">42 kD</text>
<defs><filter id="b2" x="-20%" y="-60%" width="140%" height="220%"><feGaussianBlur stdDeviation="2.2 1.6"/></filter><filter id="b4" x="-20%" y="-60%" width="140%" height="220%"><feGaussianBlur stdDeviation="4 5"/></filter><filter id="b1" x="-20%" y="-60%" width="140%" height="220%"><feGaussianBlur stdDeviation="1.5 1.2"/></filter><clipPath id="k1"><rect x="1547.3" y="1955.5" width="302.3" height="46.6"/></clipPath><clipPath id="k2"><rect x="1547.3" y="2007.2" width="302.3" height="46.6"/></clipPath></defs>
<rect x="1547.3" y="1955.5" width="302.3" height="46.6" fill="#e4e4e4" stroke="none"/>
<g clip-path="url(#k1)">
<g filter="url(#b4)">
<rect x="1557" y="1957" width="38.3" height="38" fill="#8c8c8c" stroke="none"/>
<rect x="1605.8" y="1957" width="35.5" height="38" fill="#a4a4a4" stroke="none"/>
<rect x="1650.9" y="1957" width="38.3" height="38" fill="#a2a2a2" stroke="none"/>
<rect x="1699.7" y="1957" width="35.5" height="38" fill="#8a8a8a" stroke="none"/>
<rect x="1743.8" y="1957" width="36.5" height="38" fill="#989898" stroke="none"/>
<rect x="1791.7" y="1957" width="39.3" height="38" fill="#a2a2a2" stroke="none"/>
</g>
<g filter="url(#b2)">
<rect x="1557" y="1972.5" width="38.3" height="7" fill="#555" stroke="none" opacity="0.75"/>
<rect x="1557" y="1980.5" width="38.3" height="5" fill="#707070" stroke="none" opacity="0.5"/>
<rect x="1605.8" y="1974.2" width="35.5" height="4.5" fill="#7a7a7a" stroke="none" opacity="0.7"/>
<rect x="1650.9" y="1974.8" width="38.3" height="4.5" fill="#7c7c7c" stroke="none" opacity="0.7"/>
<rect x="1699.7" y="1973.1" width="35.5" height="9" fill="#050505" stroke="none" opacity="1"/>
<rect x="1743.8" y="1973.9" width="36.5" height="8.2" fill="#080808" stroke="none" opacity="1"/>
<rect x="1791.7" y="1980" width="39.3" height="7" fill="#6c6c6c" stroke="none" opacity="0.8"/>
</g></g>
<rect x="1547.3" y="1955.5" width="302.3" height="46.6" fill="none" stroke="#0a0a0a" stroke-width="2"/>
<rect x="1547.3" y="2007.2" width="302.3" height="46.6" fill="#f4f4f4" stroke="none"/>
<g clip-path="url(#k2)" filter="url(#b1)">
<path d="M1559.5 2028Q1581.8 2037.5 1604 2028M1606 2028Q1628 2037.5 1650 2028M1652 2028Q1674.5 2037.5 1697 2028M1699 2028Q1720.5 2037.5 1742 2028M1744 2028Q1766 2037.5 1788 2028M1790 2028Q1813.5 2037.5 1837 2028" fill="none" stroke="#0b0b0b" stroke-width="8.6" stroke-linecap="round"/>
</g>
<rect x="1547.3" y="2007.2" width="302.3" height="46.6" fill="none" stroke="#0a0a0a" stroke-width="2"/>
<rect x="1629.8" y="2303.8" width="59.7" height="146.1" fill="#676567" stroke="none"/>
<rect x="1796" y="2194.9" width="60" height="255" fill="#4656b0" stroke="none"/>
<text font-size="42" text-anchor="end" transform="translate(1551 2096.4) scale(0.920 1)">2.5</text>
<text font-size="42" text-anchor="end" transform="translate(1551 2169.9) scale(0.920 1)">2.0</text>
<text font-size="42" text-anchor="end" transform="translate(1551 2243.1) scale(0.920 1)">1.5</text>
<text font-size="42" text-anchor="end" transform="translate(1551 2316.6) scale(0.920 1)">1.0</text>
<text font-size="42" text-anchor="end" transform="translate(1551 2390.2) scale(0.920 1)">0.5</text>
<text font-size="42" text-anchor="end" transform="translate(1551 2463.4) scale(0.920 1)">0.0</text>
<path d="M1567.5 2081.3V2451.5M1556 2449.9H1903.8M1556.5 2082.9H1567.5M1556.5 2156.4H1567.5M1556.5 2229.6H1567.5M1556.5 2303.1H1567.5M1556.5 2376.7H1567.5M1556.5 2449.9H1567.5M1659.3 2449.9V2459.2M1825.5 2449.9V2459.2" fill="none" stroke="#000" stroke-width="3.2"/>
<text x="1663.5" y="2497.6" font-size="39.5" text-anchor="middle">WT</text>
<text x="1837.5" y="2497.6" font-size="39.5" text-anchor="middle"><tspan font-style="italic">Fmr1</tspan>-KO</text>
<text font-size="40" text-anchor="middle" transform="translate(1480.5 2252.5) rotate(-90) scale(0.970 1)">IL-17RA/ACTIN</text>
<line x1="1660" y1="2100.2" x2="1825.5" y2="2100.2" stroke-width="3.2" stroke="#000"/>
<text x="1745.8" y="2113.7" font-size="78" font-weight="bold" text-anchor="middle" letter-spacing="6">***</text>
<g fill="#fff" stroke="#000">
<circle cx="1660" cy="2232.7" r="6.7" stroke-width="2.9"/>
<circle cx="1634" cy="2274.4" r="6.7" stroke-width="2.9"/>
<circle cx="1660" cy="2272.6" r="6.7" stroke-width="2.9"/>
<circle cx="1686" cy="2274.4" r="6.7" stroke-width="2.9"/>
<circle cx="1686" cy="2316" r="6.7" stroke-width="2.9"/>
<circle cx="1660" cy="2321.2" r="6.7" stroke-width="2.9"/>
<circle cx="1677.4" cy="2367.3" r="6.7" stroke-width="2.9"/>
<circle cx="1641.6" cy="2374.2" r="6.7" stroke-width="2.9"/>
<circle cx="1825.8" cy="2114.8" r="6.7" stroke-width="2.9"/>
<circle cx="1799.8" cy="2162.7" r="6.7" stroke-width="2.9"/>
<circle cx="1825.8" cy="2162.7" r="6.7" stroke-width="2.9"/>
<circle cx="1849" cy="2165.1" r="6.7" stroke-width="2.9"/>
<circle cx="1849" cy="2228.6" r="6.7" stroke-width="2.9"/>
<circle cx="1825.8" cy="2235.5" r="6.7" stroke-width="2.9"/>
<circle cx="1799.8" cy="2244.2" r="6.7" stroke-width="2.9"/>
<circle cx="1849" cy="2244.2" r="6.7" stroke-width="2.9"/>
</g>
<path d="M1644.1 2285.8H1674.5M1644.1 2321.2H1674.5M1659.3 2285.8V2321.2" stroke="#000" stroke-width="2.9" fill="none"/>
<path d="M1810.3 2177.6H1840.7M1810.3 2212.3H1840.7M1825.5 2177.6V2212.3" stroke="#000" stroke-width="2.9" fill="none"/>
</svg>
</body>
</html>
